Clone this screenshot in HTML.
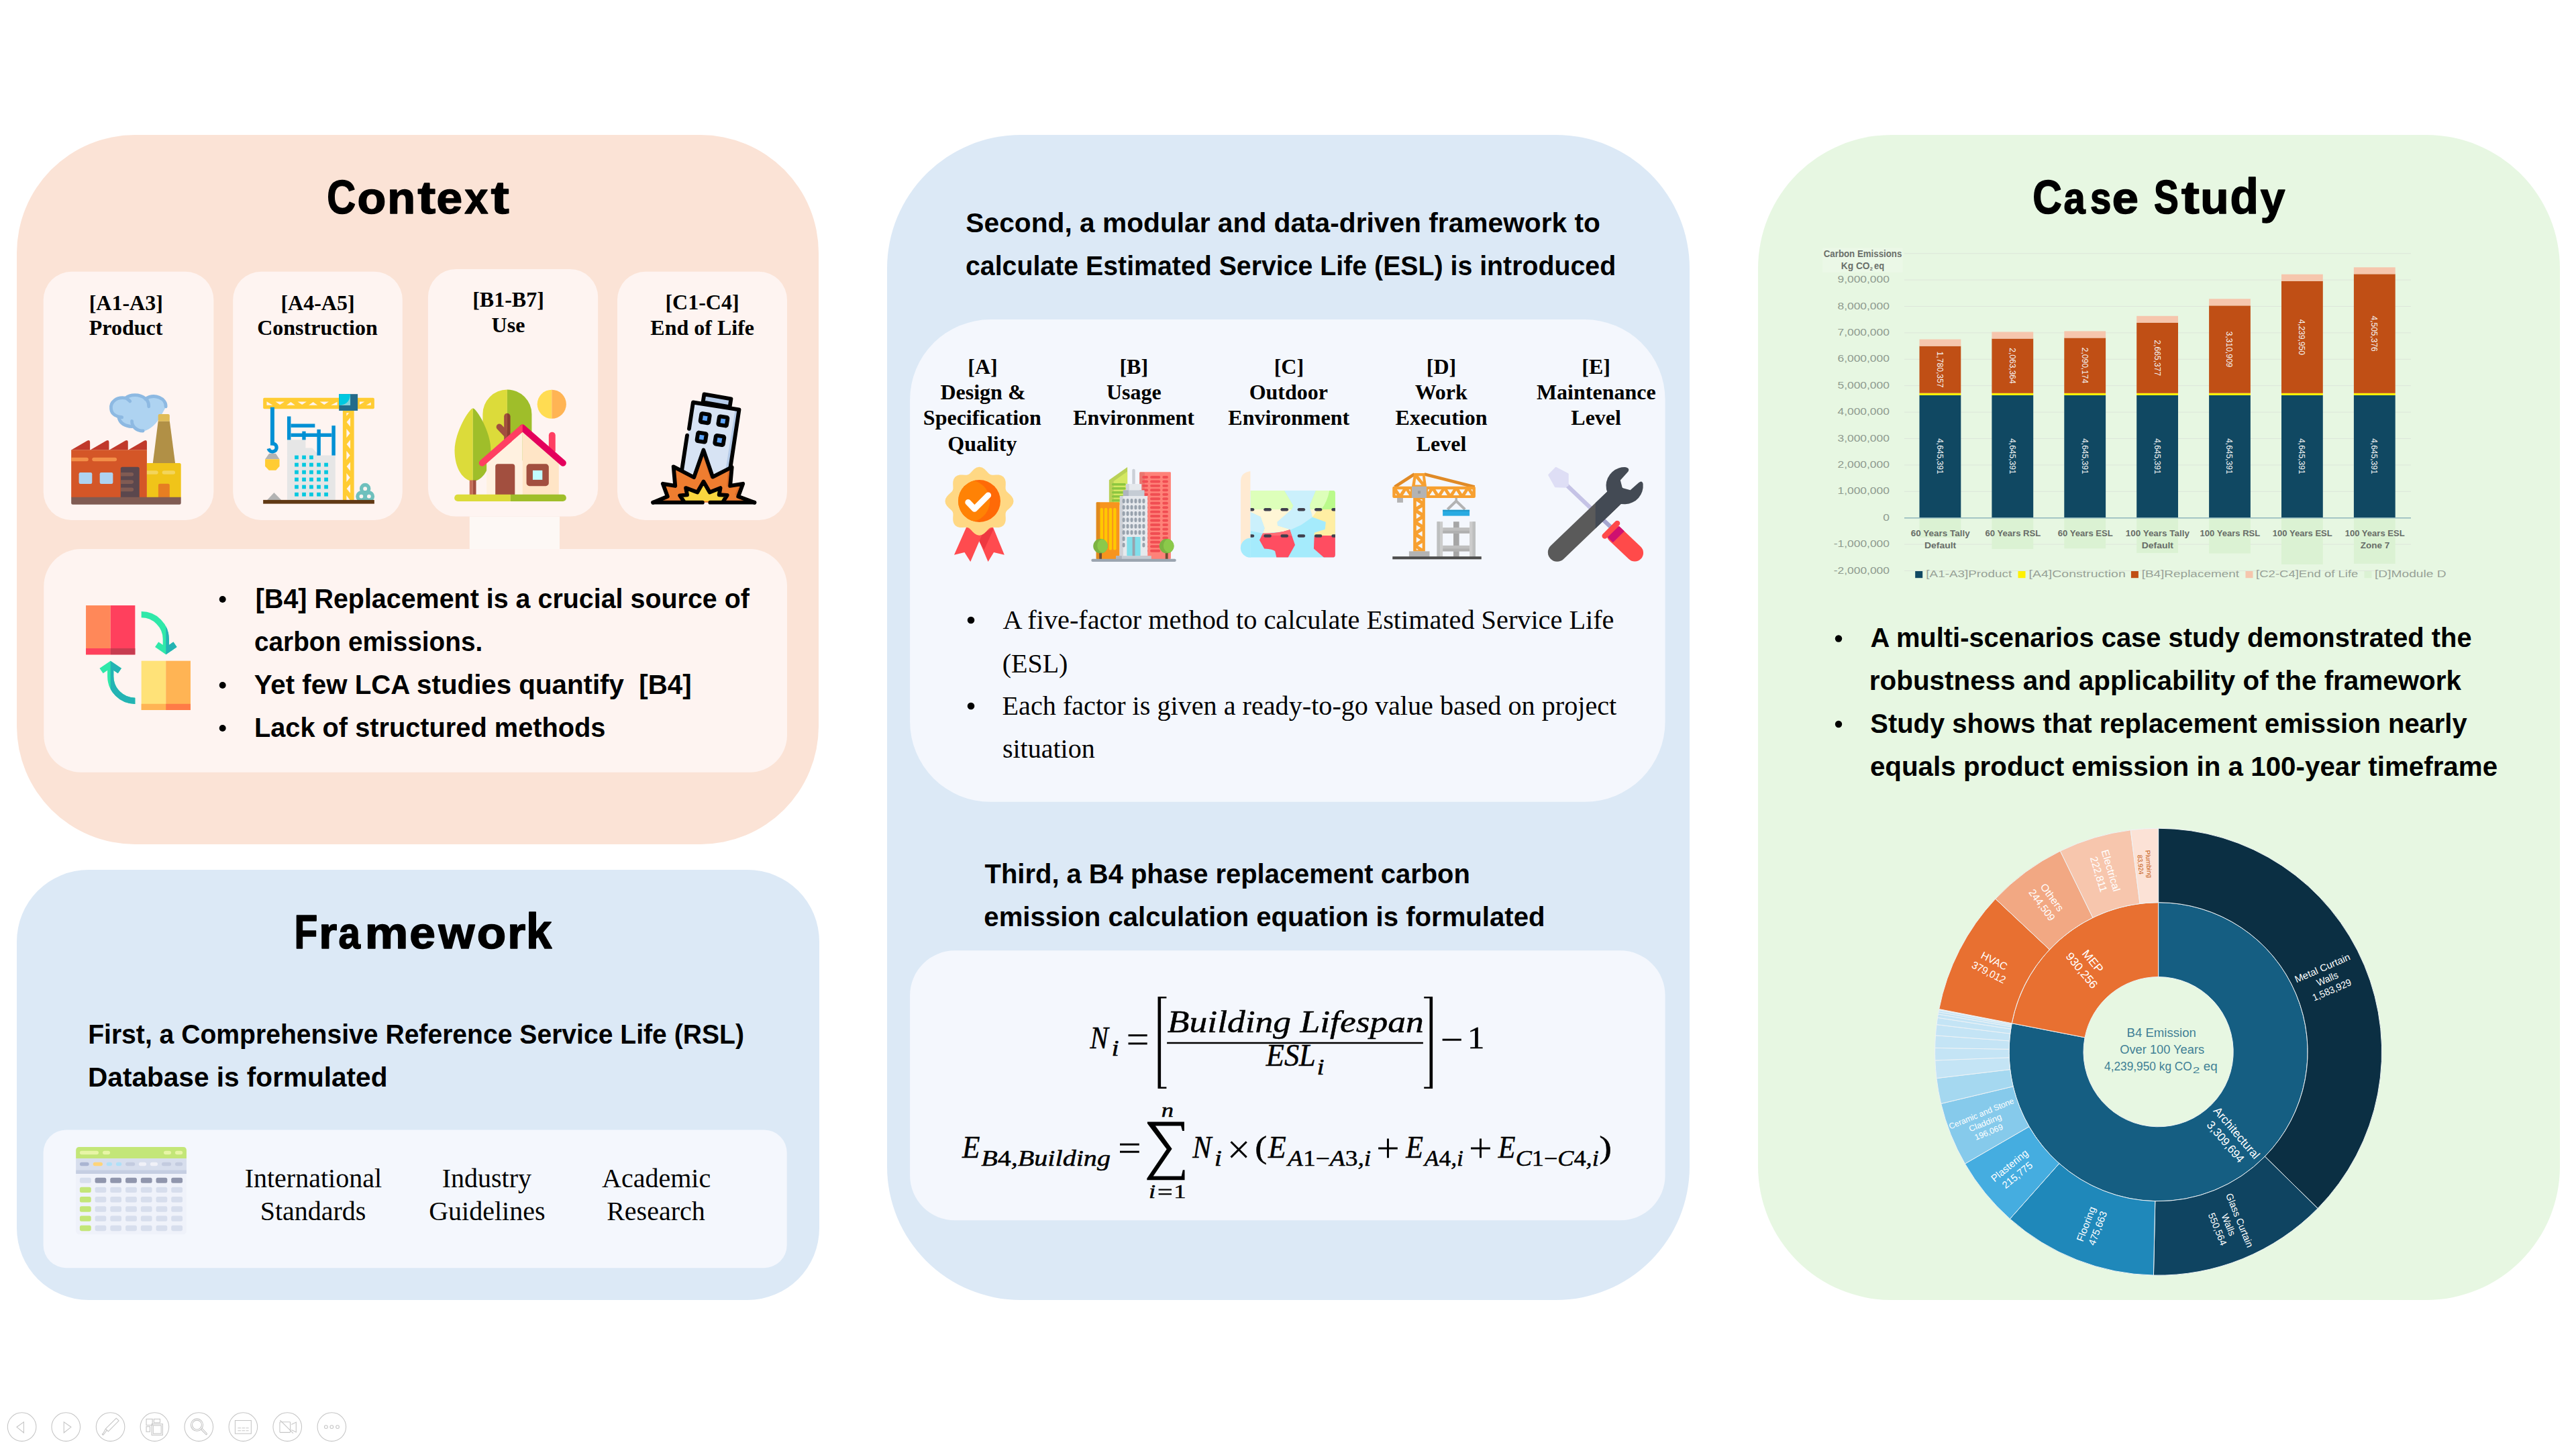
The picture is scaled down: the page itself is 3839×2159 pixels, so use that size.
<!DOCTYPE html>
<html><head><meta charset="utf-8"><title>Graphical abstract</title>
<style>html,body{margin:0;padding:0;background:#fff;overflow:hidden}svg{display:block}text{font-kerning:normal;white-space:pre}</style>
</head><body>
<svg width="3839" height="2159" viewBox="0 0 3839 2159">
<rect width="3839" height="2159" fill="#fff"/>
<rect x="25.0" y="201.0" width="1195.0" height="1057.0" rx="176.0" fill="#FBE3D6" />
<rect x="25.0" y="1296.0" width="1196.0" height="641.0" rx="107.0" fill="#DCE9F6" />
<rect x="1322.0" y="201.0" width="1196.0" height="1736.0" rx="199.0" fill="#DCE9F6" />
<rect x="2620.0" y="201.0" width="1195.0" height="1736.0" rx="199.0" fill="#E7F7E2" />
<rect x="64.7" y="404.7" width="253.7" height="370.3" rx="42.0" fill="#FEF4F1" />
<rect x="347.2" y="404.7" width="252.6" height="370.3" rx="42.0" fill="#FEF4F1" />
<rect x="637.9" y="400.9" width="253.3" height="368.7" rx="42.0" fill="#FEF4F1" />
<rect x="920.0" y="404.7" width="253.0" height="370.3" rx="42.0" fill="#FEF4F1" />
<rect x="699.8" y="769.6" width="134.2" height="48.4" fill="#FDF8F5"/>
<rect x="65.3" y="818.0" width="1107.7" height="332.8" rx="55.5" fill="#FEF4F1" />
<rect x="64.6" y="1683.5" width="1108.1" height="205.7" rx="34.0" fill="#F4F7FD" />
<rect x="1356.1" y="476.1" width="1125.5" height="718.7" rx="119.8" fill="#F4F7FD" />
<rect x="1356.1" y="1416.3" width="1125.5" height="402.0" rx="67.0" fill="#F4F7FD" />
<text x="487.22" y="318.40" font-family="Liberation Sans, sans-serif" font-weight="bold" font-style="normal" font-size="70.5" fill="#000" textLength="42.89" lengthAdjust="spacingAndGlyphs" stroke="#000" stroke-width="1.6" stroke-linejoin="round" xml:space="preserve">C</text>
<text x="532.60" y="318.40" font-family="Liberation Sans, sans-serif" font-weight="bold" font-style="normal" font-size="66.27" fill="#000" textLength="42.76" lengthAdjust="spacingAndGlyphs" stroke="#000" stroke-width="1.6" stroke-linejoin="round" xml:space="preserve">o</text>
<text x="577.35" y="318.40" font-family="Liberation Sans, sans-serif" font-weight="bold" font-style="normal" font-size="66.27" fill="#000" textLength="41.82" lengthAdjust="spacingAndGlyphs" stroke="#000" stroke-width="1.6" stroke-linejoin="round" xml:space="preserve">n</text>
<text x="622.40" y="318.40" font-family="Liberation Sans, sans-serif" font-weight="bold" font-style="normal" font-size="67.68" fill="#000" textLength="26.64" lengthAdjust="spacingAndGlyphs" stroke="#000" stroke-width="1.6" stroke-linejoin="round" xml:space="preserve">t</text>
<text x="650.42" y="318.40" font-family="Liberation Sans, sans-serif" font-weight="bold" font-style="normal" font-size="66.27" fill="#000" textLength="38.58" lengthAdjust="spacingAndGlyphs" stroke="#000" stroke-width="1.6" stroke-linejoin="round" xml:space="preserve">e</text>
<text x="692.47" y="318.40" font-family="Liberation Sans, sans-serif" font-weight="bold" font-style="normal" font-size="66.27" fill="#000" textLength="34.81" lengthAdjust="spacingAndGlyphs" stroke="#000" stroke-width="1.6" stroke-linejoin="round" xml:space="preserve">x</text>
<text x="731.89" y="318.40" font-family="Liberation Sans, sans-serif" font-weight="bold" font-style="normal" font-size="67.68" fill="#000" textLength="26.97" lengthAdjust="spacingAndGlyphs" stroke="#000" stroke-width="1.6" stroke-linejoin="round" xml:space="preserve">t</text>
<text x="438.49" y="1412.80" font-family="Liberation Sans, sans-serif" font-weight="bold" font-style="normal" font-size="70.5" fill="#000" textLength="34.85" lengthAdjust="spacingAndGlyphs" stroke="#000" stroke-width="1.6" stroke-linejoin="round" xml:space="preserve">F</text>
<text x="475.19" y="1412.80" font-family="Liberation Sans, sans-serif" font-weight="bold" font-style="normal" font-size="66.27" fill="#000" textLength="26.99" lengthAdjust="spacingAndGlyphs" stroke="#000" stroke-width="1.6" stroke-linejoin="round" xml:space="preserve">r</text>
<text x="504.45" y="1412.80" font-family="Liberation Sans, sans-serif" font-weight="bold" font-style="normal" font-size="66.27" fill="#000" textLength="32.43" lengthAdjust="spacingAndGlyphs" stroke="#000" stroke-width="1.6" stroke-linejoin="round" xml:space="preserve">a</text>
<text x="543.88" y="1412.80" font-family="Liberation Sans, sans-serif" font-weight="bold" font-style="normal" font-size="66.27" fill="#000" textLength="64.62" lengthAdjust="spacingAndGlyphs" stroke="#000" stroke-width="1.6" stroke-linejoin="round" xml:space="preserve">m</text>
<text x="610.22" y="1412.80" font-family="Liberation Sans, sans-serif" font-weight="bold" font-style="normal" font-size="66.27" fill="#000" textLength="38.70" lengthAdjust="spacingAndGlyphs" stroke="#000" stroke-width="1.6" stroke-linejoin="round" xml:space="preserve">e</text>
<text x="653.45" y="1412.80" font-family="Liberation Sans, sans-serif" font-weight="bold" font-style="normal" font-size="66.27" fill="#000" textLength="53.90" lengthAdjust="spacingAndGlyphs" stroke="#000" stroke-width="1.6" stroke-linejoin="round" xml:space="preserve">w</text>
<text x="710.85" y="1412.80" font-family="Liberation Sans, sans-serif" font-weight="bold" font-style="normal" font-size="66.27" fill="#000" textLength="43.45" lengthAdjust="spacingAndGlyphs" stroke="#000" stroke-width="1.6" stroke-linejoin="round" xml:space="preserve">o</text>
<text x="756.19" y="1412.80" font-family="Liberation Sans, sans-serif" font-weight="bold" font-style="normal" font-size="66.27" fill="#000" textLength="26.99" lengthAdjust="spacingAndGlyphs" stroke="#000" stroke-width="1.6" stroke-linejoin="round" xml:space="preserve">r</text>
<text x="784.08" y="1412.80" font-family="Liberation Sans, sans-serif" font-weight="bold" font-style="normal" font-size="73.67" fill="#000" textLength="38.30" lengthAdjust="spacingAndGlyphs" stroke="#000" stroke-width="1.6" stroke-linejoin="round" xml:space="preserve">k</text>
<text x="3029.29" y="318.40" font-family="Liberation Sans, sans-serif" font-weight="bold" font-style="normal" font-size="70.5" fill="#000" textLength="43.55" lengthAdjust="spacingAndGlyphs" stroke="#000" stroke-width="1.6" stroke-linejoin="round" xml:space="preserve">C</text>
<text x="3075.56" y="318.40" font-family="Liberation Sans, sans-serif" font-weight="bold" font-style="normal" font-size="66.27" fill="#000" textLength="32.23" lengthAdjust="spacingAndGlyphs" stroke="#000" stroke-width="1.6" stroke-linejoin="round" xml:space="preserve">a</text>
<text x="3115.12" y="318.40" font-family="Liberation Sans, sans-serif" font-weight="bold" font-style="normal" font-size="66.27" fill="#000" textLength="31.40" lengthAdjust="spacingAndGlyphs" stroke="#000" stroke-width="1.6" stroke-linejoin="round" xml:space="preserve">s</text>
<text x="3147.88" y="318.40" font-family="Liberation Sans, sans-serif" font-weight="bold" font-style="normal" font-size="66.27" fill="#000" textLength="39.16" lengthAdjust="spacingAndGlyphs" stroke="#000" stroke-width="1.6" stroke-linejoin="round" xml:space="preserve">e</text>
<text x="3210.05" y="318.40" font-family="Liberation Sans, sans-serif" font-weight="bold" font-style="normal" font-size="70.5" fill="#000" textLength="36.80" lengthAdjust="spacingAndGlyphs" stroke="#000" stroke-width="1.6" stroke-linejoin="round" xml:space="preserve">S</text>
<text x="3251.00" y="318.40" font-family="Liberation Sans, sans-serif" font-weight="bold" font-style="normal" font-size="67.68" fill="#000" textLength="26.64" lengthAdjust="spacingAndGlyphs" stroke="#000" stroke-width="1.6" stroke-linejoin="round" xml:space="preserve">t</text>
<text x="3279.24" y="318.40" font-family="Liberation Sans, sans-serif" font-weight="bold" font-style="normal" font-size="66.27" fill="#000" textLength="42.32" lengthAdjust="spacingAndGlyphs" stroke="#000" stroke-width="1.6" stroke-linejoin="round" xml:space="preserve">u</text>
<text x="3323.52" y="318.40" font-family="Liberation Sans, sans-serif" font-weight="bold" font-style="normal" font-size="73.67" fill="#000" textLength="42.46" lengthAdjust="spacingAndGlyphs" stroke="#000" stroke-width="1.6" stroke-linejoin="round" xml:space="preserve">d</text>
<text x="3368.84" y="318.40" font-family="Liberation Sans, sans-serif" font-weight="bold" font-style="normal" font-size="66.27" fill="#000" textLength="36.67" lengthAdjust="spacingAndGlyphs" stroke="#000" stroke-width="1.6" stroke-linejoin="round" xml:space="preserve">y</text>
<text x="132.68" y="461.60" font-family="Liberation Serif, serif" font-weight="bold" font-style="normal" font-size="32" fill="#000" textLength="110.19" lengthAdjust="spacingAndGlyphs"  xml:space="preserve">[A1-A3]</text>
<text x="132.76" y="499.10" font-family="Liberation Serif, serif" font-weight="bold" font-style="normal" font-size="32" fill="#000" textLength="109.63" lengthAdjust="spacingAndGlyphs"  xml:space="preserve">Product</text>
<text x="418.38" y="461.60" font-family="Liberation Serif, serif" font-weight="bold" font-style="normal" font-size="32" fill="#000" textLength="110.19" lengthAdjust="spacingAndGlyphs"  xml:space="preserve">[A4-A5]</text>
<text x="383.18" y="499.10" font-family="Liberation Serif, serif" font-weight="bold" font-style="normal" font-size="32" fill="#000" textLength="179.57" lengthAdjust="spacingAndGlyphs"  xml:space="preserve">Construction</text>
<text x="704.14" y="457.40" font-family="Liberation Serif, serif" font-weight="bold" font-style="normal" font-size="32" fill="#000" textLength="106.66" lengthAdjust="spacingAndGlyphs"  xml:space="preserve">[B1-B7]</text>
<text x="732.62" y="494.90" font-family="Liberation Serif, serif" font-weight="bold" font-style="normal" font-size="32" fill="#000" textLength="49.77" lengthAdjust="spacingAndGlyphs"  xml:space="preserve">Use</text>
<text x="991.38" y="461.40" font-family="Liberation Serif, serif" font-weight="bold" font-style="normal" font-size="32" fill="#000" textLength="110.19" lengthAdjust="spacingAndGlyphs"  xml:space="preserve">[C1-C4]</text>
<text x="969.30" y="498.90" font-family="Liberation Serif, serif" font-weight="bold" font-style="normal" font-size="32" fill="#000" textLength="154.69" lengthAdjust="spacingAndGlyphs"  xml:space="preserve">End of Life</text>
<text x="380.83" y="905.60" font-family="Liberation Sans, sans-serif" font-weight="bold" font-style="normal" font-size="40" fill="#000" textLength="736.12" lengthAdjust="spacingAndGlyphs"  xml:space="preserve">[B4] Replacement is a crucial source of</text>
<text x="378.95" y="969.60" font-family="Liberation Sans, sans-serif" font-weight="bold" font-style="normal" font-size="40" fill="#000" textLength="340.30" lengthAdjust="spacingAndGlyphs"  xml:space="preserve">carbon emissions.</text>
<text x="378.69" y="1033.50" font-family="Liberation Sans, sans-serif" font-weight="bold" font-style="normal" font-size="40" fill="#000" textLength="651.92" lengthAdjust="spacingAndGlyphs"  xml:space="preserve">Yet few LCA studies quantify  [B4]</text>
<text x="378.92" y="1097.70" font-family="Liberation Sans, sans-serif" font-weight="bold" font-style="normal" font-size="40" fill="#000" textLength="523.55" lengthAdjust="spacingAndGlyphs"  xml:space="preserve">Lack of structured methods</text>
<circle cx="331.7" cy="893" r="5" fill="#000"/>
<circle cx="331.7" cy="1021" r="5" fill="#000"/>
<circle cx="331.7" cy="1085" r="5" fill="#000"/>
<text x="131.16" y="1554.80" font-family="Liberation Sans, sans-serif" font-weight="bold" font-style="normal" font-size="40" fill="#000" textLength="977.77" lengthAdjust="spacingAndGlyphs"  xml:space="preserve">First, a Comprehensive Reference Service Life (RSL)</text>
<text x="131.06" y="1619.40" font-family="Liberation Sans, sans-serif" font-weight="bold" font-style="normal" font-size="40" fill="#000" textLength="446.42" lengthAdjust="spacingAndGlyphs"  xml:space="preserve">Database is formulated</text>
<text x="364.70" y="1769.40" font-family="Liberation Serif, serif" font-weight="normal" font-style="normal" font-size="40" fill="#000" textLength="204.35" lengthAdjust="spacingAndGlyphs"  xml:space="preserve">International</text>
<text x="387.70" y="1817.60" font-family="Liberation Serif, serif" font-weight="normal" font-style="normal" font-size="40" fill="#000" textLength="157.75" lengthAdjust="spacingAndGlyphs"  xml:space="preserve">Standards</text>
<text x="658.70" y="1769.40" font-family="Liberation Serif, serif" font-weight="normal" font-style="normal" font-size="40" fill="#000" textLength="133.32" lengthAdjust="spacingAndGlyphs"  xml:space="preserve">Industry</text>
<text x="639.20" y="1817.60" font-family="Liberation Serif, serif" font-weight="normal" font-style="normal" font-size="40" fill="#000" textLength="173.30" lengthAdjust="spacingAndGlyphs"  xml:space="preserve">Guidelines</text>
<text x="897.10" y="1769.40" font-family="Liberation Serif, serif" font-weight="normal" font-style="normal" font-size="40" fill="#000" textLength="162.12" lengthAdjust="spacingAndGlyphs"  xml:space="preserve">Academic</text>
<text x="904.20" y="1817.60" font-family="Liberation Serif, serif" font-weight="normal" font-style="normal" font-size="40" fill="#000" textLength="146.58" lengthAdjust="spacingAndGlyphs"  xml:space="preserve">Research</text>
<text x="1439.38" y="345.50" font-family="Liberation Sans, sans-serif" font-weight="bold" font-style="normal" font-size="40" fill="#000" textLength="945.55" lengthAdjust="spacingAndGlyphs"  xml:space="preserve">Second, a modular and data-driven framework to</text>
<text x="1439.03" y="409.60" font-family="Liberation Sans, sans-serif" font-weight="bold" font-style="normal" font-size="40" fill="#000" textLength="969.12" lengthAdjust="spacingAndGlyphs"  xml:space="preserve">calculate Estimated Service Life (ESL) is introduced</text>
<text x="1442.26" y="556.70" font-family="Liberation Serif, serif" font-weight="bold" font-style="normal" font-size="32" fill="#000" textLength="44.42" lengthAdjust="spacingAndGlyphs"  xml:space="preserve">[A]</text>
<text x="1401.46" y="595.00" font-family="Liberation Serif, serif" font-weight="bold" font-style="normal" font-size="32" fill="#000" textLength="127.11" lengthAdjust="spacingAndGlyphs"  xml:space="preserve">Design &amp;</text>
<text x="1375.86" y="633.30" font-family="Liberation Serif, serif" font-weight="bold" font-style="normal" font-size="32" fill="#000" textLength="175.99" lengthAdjust="spacingAndGlyphs"  xml:space="preserve">Specification</text>
<text x="1412.26" y="671.60" font-family="Liberation Serif, serif" font-weight="bold" font-style="normal" font-size="32" fill="#000" textLength="103.13" lengthAdjust="spacingAndGlyphs"  xml:space="preserve">Quality</text>
<text x="1668.44" y="556.70" font-family="Liberation Serif, serif" font-weight="bold" font-style="normal" font-size="32" fill="#000" textLength="42.66" lengthAdjust="spacingAndGlyphs"  xml:space="preserve">[B]</text>
<text x="1648.92" y="595.00" font-family="Liberation Serif, serif" font-weight="bold" font-style="normal" font-size="32" fill="#000" textLength="81.76" lengthAdjust="spacingAndGlyphs"  xml:space="preserve">Usage</text>
<text x="1599.24" y="633.30" font-family="Liberation Serif, serif" font-weight="bold" font-style="normal" font-size="32" fill="#000" textLength="180.77" lengthAdjust="spacingAndGlyphs"  xml:space="preserve">Environment</text>
<text x="1898.66" y="556.70" font-family="Liberation Serif, serif" font-weight="bold" font-style="normal" font-size="32" fill="#000" textLength="44.42" lengthAdjust="spacingAndGlyphs"  xml:space="preserve">[C]</text>
<text x="1861.70" y="595.00" font-family="Liberation Serif, serif" font-weight="bold" font-style="normal" font-size="32" fill="#000" textLength="117.34" lengthAdjust="spacingAndGlyphs"  xml:space="preserve">Outdoor</text>
<text x="1830.34" y="633.30" font-family="Liberation Serif, serif" font-weight="bold" font-style="normal" font-size="32" fill="#000" textLength="180.77" lengthAdjust="spacingAndGlyphs"  xml:space="preserve">Environment</text>
<text x="2125.76" y="556.70" font-family="Liberation Serif, serif" font-weight="bold" font-style="normal" font-size="32" fill="#000" textLength="44.43" lengthAdjust="spacingAndGlyphs"  xml:space="preserve">[D]</text>
<text x="2108.64" y="595.00" font-family="Liberation Serif, serif" font-weight="bold" font-style="normal" font-size="32" fill="#000" textLength="78.24" lengthAdjust="spacingAndGlyphs"  xml:space="preserve">Work</text>
<text x="2079.60" y="633.30" font-family="Liberation Serif, serif" font-weight="bold" font-style="normal" font-size="32" fill="#000" textLength="136.89" lengthAdjust="spacingAndGlyphs"  xml:space="preserve">Execution</text>
<text x="2110.72" y="671.60" font-family="Liberation Serif, serif" font-weight="bold" font-style="normal" font-size="32" fill="#000" textLength="74.64" lengthAdjust="spacingAndGlyphs"  xml:space="preserve">Level</text>
<text x="2357.24" y="556.70" font-family="Liberation Serif, serif" font-weight="bold" font-style="normal" font-size="32" fill="#000" textLength="42.66" lengthAdjust="spacingAndGlyphs"  xml:space="preserve">[E]</text>
<text x="2289.88" y="595.00" font-family="Liberation Serif, serif" font-weight="bold" font-style="normal" font-size="32" fill="#000" textLength="177.75" lengthAdjust="spacingAndGlyphs"  xml:space="preserve">Maintenance</text>
<text x="2341.32" y="633.30" font-family="Liberation Serif, serif" font-weight="bold" font-style="normal" font-size="32" fill="#000" textLength="74.64" lengthAdjust="spacingAndGlyphs"  xml:space="preserve">Level</text>
<text x="1494.40" y="936.90" font-family="Liberation Serif, serif" font-weight="normal" font-style="normal" font-size="40" fill="#000" textLength="911.08" lengthAdjust="spacingAndGlyphs"  xml:space="preserve">A five-factor method to calculate Estimated Service Life</text>
<text x="1493.70" y="1001.50" font-family="Liberation Serif, serif" font-weight="normal" font-style="normal" font-size="40" fill="#000"   xml:space="preserve">(ESL)</text>
<text x="1493.59" y="1065.10" font-family="Liberation Serif, serif" font-weight="normal" font-style="normal" font-size="40" fill="#000" textLength="915.63" lengthAdjust="spacingAndGlyphs"  xml:space="preserve">Each factor is given a ready-to-go value based on project</text>
<text x="1493.90" y="1129.20" font-family="Liberation Serif, serif" font-weight="normal" font-style="normal" font-size="40" fill="#000"   xml:space="preserve">situation</text>
<circle cx="1447" cy="924" r="5.3" fill="#000"/>
<circle cx="1447" cy="1052" r="5.3" fill="#000"/>
<text x="1467.60" y="1316.00" font-family="Liberation Sans, sans-serif" font-weight="bold" font-style="normal" font-size="40" fill="#000" textLength="723.27" lengthAdjust="spacingAndGlyphs"  xml:space="preserve">Third, a B4 phase replacement carbon</text>
<text x="1466.39" y="1379.60" font-family="Liberation Sans, sans-serif" font-weight="bold" font-style="normal" font-size="40" fill="#000" textLength="836.12" lengthAdjust="spacingAndGlyphs"  xml:space="preserve">emission calculation equation is formulated</text>
<text x="2787.50" y="964.20" font-family="Liberation Sans, sans-serif" font-weight="bold" font-style="normal" font-size="40" fill="#000" textLength="896.08" lengthAdjust="spacingAndGlyphs"  xml:space="preserve">A multi-scenarios case study demonstrated the</text>
<text x="2785.87" y="1027.70" font-family="Liberation Sans, sans-serif" font-weight="bold" font-style="normal" font-size="40" fill="#000" textLength="882.06" lengthAdjust="spacingAndGlyphs"  xml:space="preserve">robustness and applicability of the framework</text>
<text x="2787.30" y="1091.60" font-family="Liberation Sans, sans-serif" font-weight="bold" font-style="normal" font-size="40" fill="#000" textLength="889.30" lengthAdjust="spacingAndGlyphs"  xml:space="preserve">Study shows that replacement emission nearly</text>
<text x="2786.89" y="1155.60" font-family="Liberation Sans, sans-serif" font-weight="bold" font-style="normal" font-size="40" fill="#000" textLength="935.25" lengthAdjust="spacingAndGlyphs"  xml:space="preserve">equals product emission in a 100-year timeframe</text>
<circle cx="2740" cy="951.5" r="5.2" fill="#000"/>
<circle cx="2740" cy="1079" r="5.2" fill="#000"/>
<g id="barchart">
<line x1="2838" x2="3593" y1="850.5" y2="850.5" stroke="#dde6da" stroke-width="1"/>
<line x1="2838" x2="3593" y1="811.1" y2="811.1" stroke="#dde6da" stroke-width="1"/>
<line x1="2838" x2="3593" y1="732.3" y2="732.3" stroke="#dde6da" stroke-width="1"/>
<line x1="2838" x2="3593" y1="692.9" y2="692.9" stroke="#dde6da" stroke-width="1"/>
<line x1="2838" x2="3593" y1="653.5" y2="653.5" stroke="#dde6da" stroke-width="1"/>
<line x1="2838" x2="3593" y1="614.1" y2="614.1" stroke="#dde6da" stroke-width="1"/>
<line x1="2838" x2="3593" y1="574.7" y2="574.7" stroke="#dde6da" stroke-width="1"/>
<line x1="2838" x2="3593" y1="535.3" y2="535.3" stroke="#dde6da" stroke-width="1"/>
<line x1="2838" x2="3593" y1="495.9" y2="495.9" stroke="#dde6da" stroke-width="1"/>
<line x1="2838" x2="3593" y1="456.5" y2="456.5" stroke="#dde6da" stroke-width="1"/>
<line x1="2838" x2="3593" y1="417.1" y2="417.1" stroke="#dde6da" stroke-width="1"/>
<line x1="2838" x2="3593" y1="377.7" y2="377.7" stroke="#dde6da" stroke-width="1"/>
<text x="2732.74" y="854.50" font-family="Liberation Sans, sans-serif" font-weight="normal" font-style="normal" font-size="14.5" fill="#8f9b90" textLength="83.20" lengthAdjust="spacingAndGlyphs"  xml:space="preserve">-2,000,000</text>
<text x="2732.74" y="815.10" font-family="Liberation Sans, sans-serif" font-weight="normal" font-style="normal" font-size="14.5" fill="#8f9b90" textLength="83.20" lengthAdjust="spacingAndGlyphs"  xml:space="preserve">-1,000,000</text>
<text x="2806.25" y="775.70" font-family="Liberation Sans, sans-serif" font-weight="normal" font-style="normal" font-size="14.5" fill="#8f9b90" textLength="9.68" lengthAdjust="spacingAndGlyphs"  xml:space="preserve">0</text>
<text x="2738.48" y="736.30" font-family="Liberation Sans, sans-serif" font-weight="normal" font-style="normal" font-size="14.5" fill="#8f9b90" textLength="77.41" lengthAdjust="spacingAndGlyphs"  xml:space="preserve">1,000,000</text>
<text x="2738.48" y="696.90" font-family="Liberation Sans, sans-serif" font-weight="normal" font-style="normal" font-size="14.5" fill="#8f9b90" textLength="77.41" lengthAdjust="spacingAndGlyphs"  xml:space="preserve">2,000,000</text>
<text x="2738.48" y="657.50" font-family="Liberation Sans, sans-serif" font-weight="normal" font-style="normal" font-size="14.5" fill="#8f9b90" textLength="77.41" lengthAdjust="spacingAndGlyphs"  xml:space="preserve">3,000,000</text>
<text x="2738.48" y="618.10" font-family="Liberation Sans, sans-serif" font-weight="normal" font-style="normal" font-size="14.5" fill="#8f9b90" textLength="77.41" lengthAdjust="spacingAndGlyphs"  xml:space="preserve">4,000,000</text>
<text x="2738.48" y="578.70" font-family="Liberation Sans, sans-serif" font-weight="normal" font-style="normal" font-size="14.5" fill="#8f9b90" textLength="77.41" lengthAdjust="spacingAndGlyphs"  xml:space="preserve">5,000,000</text>
<text x="2738.48" y="539.30" font-family="Liberation Sans, sans-serif" font-weight="normal" font-style="normal" font-size="14.5" fill="#8f9b90" textLength="77.41" lengthAdjust="spacingAndGlyphs"  xml:space="preserve">6,000,000</text>
<text x="2738.48" y="499.90" font-family="Liberation Sans, sans-serif" font-weight="normal" font-style="normal" font-size="14.5" fill="#8f9b90" textLength="77.41" lengthAdjust="spacingAndGlyphs"  xml:space="preserve">7,000,000</text>
<text x="2738.48" y="460.50" font-family="Liberation Sans, sans-serif" font-weight="normal" font-style="normal" font-size="14.5" fill="#8f9b90" textLength="77.41" lengthAdjust="spacingAndGlyphs"  xml:space="preserve">8,000,000</text>
<text x="2738.48" y="421.10" font-family="Liberation Sans, sans-serif" font-weight="normal" font-style="normal" font-size="14.5" fill="#8f9b90" textLength="77.41" lengthAdjust="spacingAndGlyphs"  xml:space="preserve">9,000,000</text>
<rect x="2716.4" y="369.4" width="119.2" height="36.4" fill="#EBF8E7"/>
<text x="2717.77" y="382.80" font-family="Liberation Sans, sans-serif" font-weight="bold" font-style="normal" font-size="14" fill="#6a6f6a" textLength="116.56" lengthAdjust="spacingAndGlyphs"  xml:space="preserve">Carbon Emissions</text>
<text x="2743.70" y="401.00" font-family="Liberation Sans, sans-serif" font-weight="bold" font-style="normal" font-size="14" fill="#6a6f6a" textLength="42.86" lengthAdjust="spacingAndGlyphs"  xml:space="preserve">Kg CO</text>
<text x="2786.74" y="402.50" font-family="Liberation Sans, sans-serif" font-weight="bold" font-style="normal" font-size="8" fill="#6a6f6a" textLength="4.06" lengthAdjust="spacingAndGlyphs"  xml:space="preserve">2</text>
<text x="2792.98" y="401.00" font-family="Liberation Sans, sans-serif" font-weight="bold" font-style="normal" font-size="14" fill="#6a6f6a" textLength="15.08" lengthAdjust="spacingAndGlyphs"  xml:space="preserve">eq</text>
<rect x="2860.5" y="771.7" width="61.8" height="29.3" fill="#DBF2D3"/>
<rect x="2968.4" y="771.7" width="61.8" height="46.3" fill="#DBF2D3"/>
<rect x="3076.3" y="771.7" width="61.8" height="45.6" fill="#DBF2D3"/>
<rect x="3184.2" y="771.7" width="61.8" height="52.2" fill="#DBF2D3"/>
<rect x="3292.1" y="771.7" width="61.8" height="52.9" fill="#DBF2D3"/>
<rect x="3400.0" y="771.7" width="61.8" height="69.3" fill="#DBF2D3"/>
<rect x="3507.9" y="771.7" width="61.8" height="68.3" fill="#DBF2D3"/>
<rect x="2860.5" y="588.7" width="61.8" height="183.0" fill="#104862"/>
<rect x="2860.5" y="585.8" width="61.8" height="3.1" fill="#FFF100"/>
<rect x="2860.5" y="515.6" width="61.8" height="70.1" fill="#C04F15"/>
<rect x="2860.5" y="505.6" width="61.8" height="10.1" fill="#F6C6AD"/>
<g transform="translate(2886.8,679.7) rotate(90)">
<text x="-26.49" y="0.00" font-family="Liberation Sans, sans-serif" font-weight="normal" font-style="normal" font-size="13" fill="#f4f4f4" textLength="53.26" lengthAdjust="spacingAndGlyphs"  xml:space="preserve">4,645,391</text>
</g>
<g transform="translate(2886.8,550.7) rotate(90)">
<text x="-27.16" y="0.00" font-family="Liberation Sans, sans-serif" font-weight="normal" font-style="normal" font-size="13" fill="#f4f4f4" textLength="54.00" lengthAdjust="spacingAndGlyphs"  xml:space="preserve">1,780,357</text>
</g>
<text x="2847.83" y="799.40" font-family="Liberation Sans, sans-serif" font-weight="bold" font-style="normal" font-size="13.6" fill="#686d68" textLength="87.93" lengthAdjust="spacingAndGlyphs"  xml:space="preserve">60 Years Tally</text>
<text x="2868.04" y="817.00" font-family="Liberation Sans, sans-serif" font-weight="bold" font-style="normal" font-size="13.6" fill="#686d68" textLength="47.20" lengthAdjust="spacingAndGlyphs"  xml:space="preserve">Default</text>
<rect x="2968.4" y="588.7" width="61.8" height="183.0" fill="#104862"/>
<rect x="2968.4" y="585.8" width="61.8" height="3.1" fill="#FFF100"/>
<rect x="2968.4" y="504.5" width="61.8" height="81.3" fill="#C04F15"/>
<rect x="2968.4" y="494.5" width="61.8" height="10.1" fill="#F6C6AD"/>
<g transform="translate(2994.7,679.7) rotate(90)">
<text x="-26.49" y="0.00" font-family="Liberation Sans, sans-serif" font-weight="normal" font-style="normal" font-size="13" fill="#f4f4f4" textLength="53.26" lengthAdjust="spacingAndGlyphs"  xml:space="preserve">4,645,391</text>
</g>
<g transform="translate(2994.7,545.1) rotate(90)">
<text x="-26.85" y="0.00" font-family="Liberation Sans, sans-serif" font-weight="normal" font-style="normal" font-size="13" fill="#f4f4f4" textLength="53.45" lengthAdjust="spacingAndGlyphs"  xml:space="preserve">2,063,364</text>
</g>
<text x="2958.44" y="799.40" font-family="Liberation Sans, sans-serif" font-weight="bold" font-style="normal" font-size="13.6" fill="#686d68" textLength="82.85" lengthAdjust="spacingAndGlyphs"  xml:space="preserve">60 Years RSL</text>
<rect x="3076.3" y="588.7" width="61.8" height="183.0" fill="#104862"/>
<rect x="3076.3" y="585.8" width="61.8" height="3.1" fill="#FFF100"/>
<rect x="3076.3" y="503.4" width="61.8" height="82.4" fill="#C04F15"/>
<rect x="3076.3" y="493.4" width="61.8" height="10.1" fill="#F6C6AD"/>
<g transform="translate(3102.6,679.7) rotate(90)">
<text x="-26.49" y="0.00" font-family="Liberation Sans, sans-serif" font-weight="normal" font-style="normal" font-size="13" fill="#f4f4f4" textLength="53.26" lengthAdjust="spacingAndGlyphs"  xml:space="preserve">4,645,391</text>
</g>
<g transform="translate(3102.6,544.6) rotate(90)">
<text x="-26.85" y="0.00" font-family="Liberation Sans, sans-serif" font-weight="normal" font-style="normal" font-size="13" fill="#f4f4f4" textLength="53.45" lengthAdjust="spacingAndGlyphs"  xml:space="preserve">2,090,174</text>
</g>
<text x="3066.69" y="799.40" font-family="Liberation Sans, sans-serif" font-weight="bold" font-style="normal" font-size="13.6" fill="#686d68" textLength="82.14" lengthAdjust="spacingAndGlyphs"  xml:space="preserve">60 Years ESL</text>
<rect x="3184.2" y="588.7" width="61.8" height="183.0" fill="#104862"/>
<rect x="3184.2" y="585.8" width="61.8" height="3.1" fill="#FFF100"/>
<rect x="3184.2" y="480.8" width="61.8" height="105.0" fill="#C04F15"/>
<rect x="3184.2" y="470.8" width="61.8" height="10.1" fill="#F6C6AD"/>
<g transform="translate(3210.5,679.7) rotate(90)">
<text x="-26.49" y="0.00" font-family="Liberation Sans, sans-serif" font-weight="normal" font-style="normal" font-size="13" fill="#f4f4f4" textLength="53.26" lengthAdjust="spacingAndGlyphs"  xml:space="preserve">4,645,391</text>
</g>
<g transform="translate(3210.5,533.3) rotate(90)">
<text x="-26.85" y="0.00" font-family="Liberation Sans, sans-serif" font-weight="normal" font-style="normal" font-size="13" fill="#f4f4f4" textLength="53.69" lengthAdjust="spacingAndGlyphs"  xml:space="preserve">2,665,377</text>
</g>
<text x="3167.74" y="799.40" font-family="Liberation Sans, sans-serif" font-weight="bold" font-style="normal" font-size="13.6" fill="#686d68" textLength="95.18" lengthAdjust="spacingAndGlyphs"  xml:space="preserve">100 Years Tally</text>
<text x="3191.74" y="817.00" font-family="Liberation Sans, sans-serif" font-weight="bold" font-style="normal" font-size="13.6" fill="#686d68" textLength="47.20" lengthAdjust="spacingAndGlyphs"  xml:space="preserve">Default</text>
<rect x="3292.1" y="588.7" width="61.8" height="183.0" fill="#104862"/>
<rect x="3292.1" y="585.8" width="61.8" height="3.1" fill="#FFF100"/>
<rect x="3292.1" y="455.3" width="61.8" height="130.4" fill="#C04F15"/>
<rect x="3292.1" y="445.3" width="61.8" height="10.1" fill="#F6C6AD"/>
<g transform="translate(3318.4,679.7) rotate(90)">
<text x="-26.49" y="0.00" font-family="Liberation Sans, sans-serif" font-weight="normal" font-style="normal" font-size="13" fill="#f4f4f4" textLength="53.26" lengthAdjust="spacingAndGlyphs"  xml:space="preserve">4,645,391</text>
</g>
<g transform="translate(3318.4,520.5) rotate(90)">
<text x="-26.73" y="0.00" font-family="Liberation Sans, sans-serif" font-weight="normal" font-style="normal" font-size="13" fill="#f4f4f4" textLength="53.51" lengthAdjust="spacingAndGlyphs"  xml:space="preserve">3,310,909</text>
</g>
<text x="3278.57" y="799.40" font-family="Liberation Sans, sans-serif" font-weight="bold" font-style="normal" font-size="13.6" fill="#686d68" textLength="89.68" lengthAdjust="spacingAndGlyphs"  xml:space="preserve">100 Years RSL</text>
<rect x="3400.0" y="588.7" width="61.8" height="183.0" fill="#104862"/>
<rect x="3400.0" y="585.8" width="61.8" height="3.1" fill="#FFF100"/>
<rect x="3400.0" y="418.7" width="61.8" height="167.1" fill="#C04F15"/>
<rect x="3400.0" y="408.7" width="61.8" height="10.1" fill="#F6C6AD"/>
<g transform="translate(3426.3,679.7) rotate(90)">
<text x="-26.49" y="0.00" font-family="Liberation Sans, sans-serif" font-weight="normal" font-style="normal" font-size="13" fill="#f4f4f4" textLength="53.26" lengthAdjust="spacingAndGlyphs"  xml:space="preserve">4,645,391</text>
</g>
<g transform="translate(3426.3,502.2) rotate(90)">
<text x="-26.49" y="0.00" font-family="Liberation Sans, sans-serif" font-weight="normal" font-style="normal" font-size="13" fill="#f4f4f4" textLength="53.14" lengthAdjust="spacingAndGlyphs"  xml:space="preserve">4,239,950</text>
</g>
<text x="3386.82" y="799.40" font-family="Liberation Sans, sans-serif" font-weight="bold" font-style="normal" font-size="13.6" fill="#686d68" textLength="88.98" lengthAdjust="spacingAndGlyphs"  xml:space="preserve">100 Years ESL</text>
<rect x="3507.9" y="588.7" width="61.8" height="183.0" fill="#104862"/>
<rect x="3507.9" y="585.8" width="61.8" height="3.1" fill="#FFF100"/>
<rect x="3507.9" y="408.3" width="61.8" height="177.5" fill="#C04F15"/>
<rect x="3507.9" y="398.3" width="61.8" height="10.1" fill="#F6C6AD"/>
<g transform="translate(3534.2,679.7) rotate(90)">
<text x="-26.49" y="0.00" font-family="Liberation Sans, sans-serif" font-weight="normal" font-style="normal" font-size="13" fill="#f4f4f4" textLength="53.26" lengthAdjust="spacingAndGlyphs"  xml:space="preserve">4,645,391</text>
</g>
<g transform="translate(3534.2,497.0) rotate(90)">
<text x="-26.49" y="0.00" font-family="Liberation Sans, sans-serif" font-weight="normal" font-style="normal" font-size="13" fill="#f4f4f4" textLength="53.20" lengthAdjust="spacingAndGlyphs"  xml:space="preserve">4,505,376</text>
</g>
<text x="3494.72" y="799.40" font-family="Liberation Sans, sans-serif" font-weight="bold" font-style="normal" font-size="13.6" fill="#686d68" textLength="88.98" lengthAdjust="spacingAndGlyphs"  xml:space="preserve">100 Years ESL</text>
<text x="3517.75" y="817.00" font-family="Liberation Sans, sans-serif" font-weight="bold" font-style="normal" font-size="13.6" fill="#686d68" textLength="43.48" lengthAdjust="spacingAndGlyphs"  xml:space="preserve">Zone 7</text>
<line x1="2838" x2="3593" y1="771.7" y2="771.7" stroke="#8fb6bb" stroke-width="1.4"/>
<rect x="2854.2" y="851" width="11" height="10.2" fill="#104862"/>
<text x="2870.38" y="860.40" font-family="Liberation Sans, sans-serif" font-weight="normal" font-style="normal" font-size="15.2" fill="#97a197" textLength="127.84" lengthAdjust="spacingAndGlyphs"  xml:space="preserve">[A1-A3]Product</text>
<rect x="3007.5" y="851" width="11" height="10.2" fill="#FFF100"/>
<text x="3023.53" y="860.40" font-family="Liberation Sans, sans-serif" font-weight="normal" font-style="normal" font-size="15.2" fill="#97a197" textLength="144.29" lengthAdjust="spacingAndGlyphs"  xml:space="preserve">[A4]Construction</text>
<rect x="3175.9" y="851" width="11" height="10.2" fill="#C04F15"/>
<text x="3191.67" y="860.40" font-family="Liberation Sans, sans-serif" font-weight="normal" font-style="normal" font-size="15.2" fill="#97a197" textLength="145.44" lengthAdjust="spacingAndGlyphs"  xml:space="preserve">[B4]Replacement</text>
<rect x="3346.5" y="851" width="11" height="10.2" fill="#F6C6AD"/>
<text x="3362.10" y="860.40" font-family="Liberation Sans, sans-serif" font-weight="normal" font-style="normal" font-size="15.2" fill="#97a197" textLength="152.26" lengthAdjust="spacingAndGlyphs"  xml:space="preserve">[C2-C4]End of Life</text>
<rect x="3523.5" y="851" width="11" height="10.2" fill="#DBF2D3"/>
<text x="3539.06" y="860.40" font-family="Liberation Sans, sans-serif" font-weight="normal" font-style="normal" font-size="15.2" fill="#97a197" textLength="106.56" lengthAdjust="spacingAndGlyphs"  xml:space="preserve">[D]Module D</text>
</g>
<g id="sunburst">
<path d="M3216.60,1344.70 A222.5,222.5 0 1 1 2998.20,1524.69 L3107.06,1545.88 A111.6,111.6 0 1 0 3216.60,1455.60 Z" fill="#155E82" stroke="#eef3f6" stroke-width="1" stroke-linejoin="round"/>
<path d="M2998.20,1524.69 A222.5,222.5 0 0 1 3216.60,1344.70 L3216.60,1455.60 A111.6,111.6 0 0 0 3107.06,1545.88 Z" fill="#E87031" stroke="#eef3f6" stroke-width="1" stroke-linejoin="round"/>
<path d="M3216.60,1234.20 A333.0,333.0 0 0 1 3454.17,1800.55 L3375.34,1723.11 A222.5,222.5 0 0 0 3216.60,1344.70 Z" fill="#0B2F43" stroke="#eef3f6" stroke-width="1" stroke-linejoin="round"/>
<path d="M3454.17,1800.55 A333.0,333.0 0 0 1 3209.44,1900.12 L3211.81,1789.65 A222.5,222.5 0 0 0 3375.34,1723.11 Z" fill="#0F4461" stroke="#eef3f6" stroke-width="1" stroke-linejoin="round"/>
<path d="M3209.44,1900.12 A333.0,333.0 0 0 1 2995.43,1816.14 L3068.82,1733.53 A222.5,222.5 0 0 0 3211.81,1789.65 Z" fill="#1F88BA" stroke="#eef3f6" stroke-width="1" stroke-linejoin="round"/>
<path d="M2995.43,1816.14 A333.0,333.0 0 0 1 2928.39,1734.00 L3024.03,1678.65 A222.5,222.5 0 0 0 3068.82,1733.53 Z" fill="#45ADE0" stroke="#eef3f6" stroke-width="1" stroke-linejoin="round"/>
<path d="M2928.39,1734.00 A333.0,333.0 0 0 1 2892.68,1644.44 L3000.17,1618.81 A222.5,222.5 0 0 0 3024.03,1678.65 Z" fill="#86CAEB" stroke="#eef3f6" stroke-width="1" stroke-linejoin="round"/>
<path d="M2892.68,1644.44 A333.0,333.0 0 0 1 2885.94,1606.63 L2995.67,1593.54 A222.5,222.5 0 0 0 3000.17,1618.81 Z" fill="#A5D8F0" stroke="#eef3f6" stroke-width="1" stroke-linejoin="round"/>
<path d="M2885.94,1606.63 A333.0,333.0 0 0 1 2883.85,1579.98 L2994.26,1575.74 A222.5,222.5 0 0 0 2995.67,1593.54 Z" fill="#C4E4F5" stroke="#eef3f6" stroke-width="1" stroke-linejoin="round"/>
<path d="M2883.85,1579.98 A333.0,333.0 0 0 1 2883.65,1561.39 L2994.13,1563.32 A222.5,222.5 0 0 0 2994.26,1575.74 Z" fill="#C4E4F5" stroke="#eef3f6" stroke-width="1" stroke-linejoin="round"/>
<path d="M2883.65,1561.39 A333.0,333.0 0 0 1 2884.49,1542.81 L2994.70,1550.90 A222.5,222.5 0 0 0 2994.13,1563.32 Z" fill="#C4E4F5" stroke="#eef3f6" stroke-width="1" stroke-linejoin="round"/>
<path d="M2884.49,1542.81 A333.0,333.0 0 0 1 2886.08,1526.62 L2995.76,1540.08 A222.5,222.5 0 0 0 2994.70,1550.90 Z" fill="#C4E4F5" stroke="#eef3f6" stroke-width="1" stroke-linejoin="round"/>
<path d="M2886.08,1526.62 A333.0,333.0 0 0 1 2887.52,1516.26 L2996.72,1533.16 A222.5,222.5 0 0 0 2995.76,1540.08 Z" fill="#C4E4F5" stroke="#eef3f6" stroke-width="1" stroke-linejoin="round"/>
<path d="M2887.52,1516.26 A333.0,333.0 0 0 1 2888.36,1511.09 L2997.28,1529.71 A222.5,222.5 0 0 0 2996.72,1533.16 Z" fill="#C4E4F5" stroke="#eef3f6" stroke-width="1" stroke-linejoin="round"/>
<path d="M2888.36,1511.09 A333.0,333.0 0 0 1 2888.97,1507.66 L2997.69,1527.42 A222.5,222.5 0 0 0 2997.28,1529.71 Z" fill="#C4E4F5" stroke="#eef3f6" stroke-width="1" stroke-linejoin="round"/>
<path d="M2888.97,1507.66 A333.0,333.0 0 0 1 2889.50,1504.80 L2998.04,1525.51 A222.5,222.5 0 0 0 2997.69,1527.42 Z" fill="#C4E4F5" stroke="#eef3f6" stroke-width="1" stroke-linejoin="round"/>
<path d="M2889.50,1504.80 A333.0,333.0 0 0 1 2889.73,1503.57 L2998.20,1524.69 A222.5,222.5 0 0 0 2998.04,1525.51 Z" fill="#C4E4F5" stroke="#eef3f6" stroke-width="1" stroke-linejoin="round"/>
<path d="M2889.73,1503.57 A333.0,333.0 0 0 1 2973.84,1339.26 L3054.39,1414.90 A222.5,222.5 0 0 0 2998.20,1524.69 Z" fill="#E87031" stroke="#eef3f6" stroke-width="1" stroke-linejoin="round"/>
<path d="M2973.84,1339.26 A333.0,333.0 0 0 1 3070.39,1268.01 L3118.91,1367.29 A222.5,222.5 0 0 0 3054.39,1414.90 Z" fill="#F2A883" stroke="#eef3f6" stroke-width="1" stroke-linejoin="round"/>
<path d="M3070.39,1268.01 A333.0,333.0 0 0 1 3175.29,1236.77 L3189.00,1346.42 A222.5,222.5 0 0 0 3118.91,1367.29 Z" fill="#F7C6AD" stroke="#eef3f6" stroke-width="1" stroke-linejoin="round"/>
<path d="M3175.29,1236.77 A333.0,333.0 0 0 1 3216.60,1234.20 L3216.60,1344.70 A222.5,222.5 0 0 0 3189.00,1346.42 Z" fill="#FCE2D6" stroke="#eef3f6" stroke-width="1" stroke-linejoin="round"/>
<g transform="translate(3468.1,1458.4) rotate(-23.40)">
<text x="-44.34" y="-12.47" font-family="Liberation Sans, sans-serif" font-weight="normal" font-style="normal" font-size="14.5" fill="#fff" textLength="88.49" lengthAdjust="spacingAndGlyphs"  xml:space="preserve">Metal Curtain</text>
<text x="-16.57" y="5.22" font-family="Liberation Sans, sans-serif" font-weight="normal" font-style="normal" font-size="14.5" fill="#fff" textLength="33.59" lengthAdjust="spacingAndGlyphs"  xml:space="preserve">Walls</text>
<text x="-31.04" y="22.91" font-family="Liberation Sans, sans-serif" font-weight="normal" font-style="normal" font-size="14.5" fill="#fff" textLength="61.65" lengthAdjust="spacingAndGlyphs"  xml:space="preserve">1,583,929</text>
</g>
<g transform="translate(3321.4,1824.7) rotate(67.86)">
<text x="-42.71" y="-12.47" font-family="Liberation Sans, sans-serif" font-weight="normal" font-style="normal" font-size="14.5" fill="#fff" textLength="85.66" lengthAdjust="spacingAndGlyphs"  xml:space="preserve">Glass Curtain</text>
<text x="-16.57" y="5.22" font-family="Liberation Sans, sans-serif" font-weight="normal" font-style="normal" font-size="14.5" fill="#fff" textLength="33.59" lengthAdjust="spacingAndGlyphs"  xml:space="preserve">Walls</text>
<text x="-25.56" y="22.91" font-family="Liberation Sans, sans-serif" font-weight="normal" font-style="normal" font-size="14.5" fill="#fff" textLength="50.99" lengthAdjust="spacingAndGlyphs"  xml:space="preserve">550,564</text>
</g>
<g transform="translate(3117.3,1826.9) rotate(290.93)">
<text x="-27.20" y="-3.75" font-family="Liberation Sans, sans-serif" font-weight="normal" font-style="normal" font-size="15" fill="#fff" textLength="54.22" lengthAdjust="spacingAndGlyphs"  xml:space="preserve">Flooring</text>
<text x="-26.29" y="14.55" font-family="Liberation Sans, sans-serif" font-weight="normal" font-style="normal" font-size="15" fill="#fff" textLength="52.88" lengthAdjust="spacingAndGlyphs"  xml:space="preserve">475,663</text>
</g>
<g transform="translate(3000.5,1743.6) rotate(320.78)">
<text x="-33.19" y="-3.75" font-family="Liberation Sans, sans-serif" font-weight="normal" font-style="normal" font-size="15" fill="#fff" textLength="66.19" lengthAdjust="spacingAndGlyphs"  xml:space="preserve">Plastering</text>
<text x="-26.74" y="14.55" font-family="Liberation Sans, sans-serif" font-weight="normal" font-style="normal" font-size="15" fill="#fff" textLength="53.33" lengthAdjust="spacingAndGlyphs"  xml:space="preserve">215,775</text>
</g>
<g transform="translate(2958.3,1672.8) rotate(337.76)">
<text x="-51.80" y="-10.49" font-family="Liberation Sans, sans-serif" font-weight="normal" font-style="normal" font-size="12.2" fill="#fff" textLength="103.55" lengthAdjust="spacingAndGlyphs"  xml:space="preserve">Ceramic and Stone</text>
<text x="-25.65" y="4.39" font-family="Liberation Sans, sans-serif" font-weight="normal" font-style="normal" font-size="12.2" fill="#fff" textLength="51.53" lengthAdjust="spacingAndGlyphs"  xml:space="preserve">Cladding</text>
<text x="-22.42" y="19.28" font-family="Liberation Sans, sans-serif" font-weight="normal" font-style="normal" font-size="12.2" fill="#fff" textLength="44.47" lengthAdjust="spacingAndGlyphs"  xml:space="preserve">196,069</text>
</g>
<g transform="translate(2968.2,1440.1) rotate(387.11)">
<text x="-21.24" y="-3.88" font-family="Liberation Sans, sans-serif" font-weight="normal" font-style="normal" font-size="15.5" fill="#fff" textLength="41.84" lengthAdjust="spacingAndGlyphs"  xml:space="preserve">HVAC</text>
<text x="-27.10" y="15.04" font-family="Liberation Sans, sans-serif" font-weight="normal" font-style="normal" font-size="15.5" fill="#fff" textLength="54.35" lengthAdjust="spacingAndGlyphs"  xml:space="preserve">379,012</text>
</g>
<g transform="translate(3050.9,1342.7) rotate(413.58)">
<text x="-23.71" y="-3.88" font-family="Liberation Sans, sans-serif" font-weight="normal" font-style="normal" font-size="15.5" fill="#fff" textLength="47.28" lengthAdjust="spacingAndGlyphs"  xml:space="preserve">Others</text>
<text x="-27.25" y="15.04" font-family="Liberation Sans, sans-serif" font-weight="normal" font-style="normal" font-size="15.5" fill="#fff" textLength="54.43" lengthAdjust="spacingAndGlyphs"  xml:space="preserve">244,509</text>
</g>
<g transform="translate(3137.0,1299.8) rotate(433.42)">
<text x="-32.27" y="-3.88" font-family="Liberation Sans, sans-serif" font-weight="normal" font-style="normal" font-size="15.5" fill="#fff" textLength="64.33" lengthAdjust="spacingAndGlyphs"  xml:space="preserve">Electrical</text>
<text x="-27.27" y="15.04" font-family="Liberation Sans, sans-serif" font-weight="normal" font-style="normal" font-size="15.5" fill="#fff" textLength="54.47" lengthAdjust="spacingAndGlyphs"  xml:space="preserve">222,811</text>
</g>
<g transform="translate(3196.3,1287.9) rotate(445.84)">
<text x="-20.80" y="-2.50" font-family="Liberation Sans, sans-serif" font-weight="normal" font-style="normal" font-size="10" fill="#C55A11" textLength="41.43" lengthAdjust="spacingAndGlyphs"  xml:space="preserve">Plumbing</text>
<text x="-14.68" y="9.70" font-family="Liberation Sans, sans-serif" font-weight="normal" font-style="normal" font-size="10" fill="#C55A11" textLength="29.20" lengthAdjust="spacingAndGlyphs"  xml:space="preserve">83,924</text>
</g>
<g transform="translate(3111.0,1439.1) rotate(410.50)">
<text x="-19.42" y="-4.37" font-family="Liberation Sans, sans-serif" font-weight="normal" font-style="normal" font-size="17.5" fill="#fff" textLength="38.34" lengthAdjust="spacingAndGlyphs"  xml:space="preserve">MEP</text>
<text x="-31.79" y="16.97" font-family="Liberation Sans, sans-serif" font-weight="normal" font-style="normal" font-size="17.5" fill="#fff" textLength="63.49" lengthAdjust="spacingAndGlyphs"  xml:space="preserve">930,256</text>
</g>
<g transform="translate(3325.1,1694.2) rotate(49.50)">
<text x="-47.25" y="-4.37" font-family="Liberation Sans, sans-serif" font-weight="normal" font-style="normal" font-size="17.5" fill="#fff" textLength="95.67" lengthAdjust="spacingAndGlyphs"  xml:space="preserve">Architectural</text>
<text x="-37.68" y="16.97" font-family="Liberation Sans, sans-serif" font-weight="normal" font-style="normal" font-size="17.5" fill="#fff" textLength="75.16" lengthAdjust="spacingAndGlyphs"  xml:space="preserve">3,309,694</text>
</g>
<text x="3169.51" y="1545.20" font-family="Liberation Sans, sans-serif" font-weight="normal" font-style="normal" font-size="18" fill="#3F7F95" textLength="103.45" lengthAdjust="spacingAndGlyphs"  xml:space="preserve">B4 Emission</text>
<text x="3159.28" y="1570.00" font-family="Liberation Sans, sans-serif" font-weight="normal" font-style="normal" font-size="18" fill="#3F7F95" textLength="125.84" lengthAdjust="spacingAndGlyphs"  xml:space="preserve">Over 100 Years</text>
<text x="3136.05" y="1594.80" font-family="Liberation Sans, sans-serif" font-weight="normal" font-style="normal" font-size="18" fill="#3F7F95" textLength="130.73" lengthAdjust="spacingAndGlyphs"  xml:space="preserve">4,239,950 kg CO</text>
<text x="3267.84" y="1598.50" font-family="Liberation Sans, sans-serif" font-weight="normal" font-style="normal" font-size="12.5" fill="#3F7F95" textLength="10.63" lengthAdjust="spacingAndGlyphs"  xml:space="preserve">2</text>
<text x="3283.75" y="1594.80" font-family="Liberation Sans, sans-serif" font-weight="normal" font-style="normal" font-size="18" fill="#3F7F95" textLength="20.92" lengthAdjust="spacingAndGlyphs"  xml:space="preserve">eq</text>
</g>
<g id="equations">
<text x="1624.50" y="1561.70" font-family="Liberation Serif, serif" font-style="italic" font-size="47" fill="#000" stroke="#000" stroke-width="0.5" textLength="27.33" lengthAdjust="spacingAndGlyphs">N</text>
<text x="1656.61" y="1572.70" font-family="Liberation Serif, serif" font-style="italic" font-size="33" fill="#000" stroke="#000" stroke-width="0.5" textLength="11.18" lengthAdjust="spacingAndGlyphs">i</text>
<line x1="1681.5" x2="1709.7" y1="1542.7" y2="1542.7" stroke="#000" stroke-width="3"/>
<line x1="1681.5" x2="1709.7" y1="1554.9" y2="1554.9" stroke="#000" stroke-width="3"/>
<path d="M1738.4,1486.3 H1727.8 V1620.7 H1738.4" fill="none" stroke="#000" stroke-width="2.4"/>
<path d="M1727.8,1485.1 V1621.9" fill="none" stroke="#000" stroke-width="4.6"/>
<text x="1739.87" y="1538.10" font-family="Liberation Serif, serif" font-style="italic" font-size="47" fill="#000" stroke="#000" stroke-width="0.5" textLength="381.82" lengthAdjust="spacingAndGlyphs">Building Lifespan</text>
<line x1="1739.1" x2="2120.9" y1="1554.0" y2="1554.0" stroke="#000" stroke-width="2.6"/>
<text x="1886.84" y="1588.10" font-family="Liberation Serif, serif" font-style="italic" font-size="47" fill="#000" stroke="#000" stroke-width="0.5" textLength="73.94" lengthAdjust="spacingAndGlyphs">ESL</text>
<text x="1962.41" y="1600.90" font-family="Liberation Serif, serif" font-style="italic" font-size="33" fill="#000" stroke="#000" stroke-width="0.5" textLength="11.18" lengthAdjust="spacingAndGlyphs">i</text>
<path d="M2122.2,1486.3 H2132.8 V1620.7 H2122.2" fill="none" stroke="#000" stroke-width="2.4"/>
<path d="M2132.8,1485.1 V1621.9" fill="none" stroke="#000" stroke-width="4.6"/>
<line x1="2149.6" x2="2177.8" y1="1549.2" y2="1549.2" stroke="#000" stroke-width="3"/>
<text x="2186.99" y="1561.70" font-family="Liberation Serif, serif" font-style="normal" font-size="47" fill="#000" stroke="#000" stroke-width="0.5" textLength="25.35" lengthAdjust="spacingAndGlyphs">1</text>
<text x="1434.03" y="1724.80" font-family="Liberation Serif, serif" font-style="italic" font-size="47" fill="#000" stroke="#000" stroke-width="0.5" textLength="26.45" lengthAdjust="spacingAndGlyphs">E</text>
<text x="1462.20" y="1736.50" font-family="Liberation Serif, serif" font-style="italic" font-size="33" fill="#000" stroke="#000" stroke-width="0.5" textLength="24.51" lengthAdjust="spacingAndGlyphs">B</text>
<text x="1486.71" y="1736.50" font-family="Liberation Serif, serif" font-style="normal" font-size="33" fill="#000" stroke="#000" stroke-width="0.5" textLength="20.06" lengthAdjust="spacingAndGlyphs">4</text>
<text x="1506.77" y="1736.50" font-family="Liberation Serif, serif" font-style="italic" font-size="33" fill="#000" stroke="#000" stroke-width="0.5" textLength="10.03" lengthAdjust="spacingAndGlyphs">,</text>
<text x="1516.79" y="1736.50" font-family="Liberation Serif, serif" font-style="italic" font-size="33" fill="#000" stroke="#000" stroke-width="0.5" textLength="138.18" lengthAdjust="spacingAndGlyphs">Building</text>
<line x1="1669.0" x2="1697.8" y1="1705.2" y2="1705.2" stroke="#000" stroke-width="3"/>
<line x1="1669.0" x2="1697.8" y1="1716.2" y2="1716.2" stroke="#000" stroke-width="3"/>
<path d="M1709.9,1671.5 L1764.9,1671.5 L1764.9,1684.9 L1762.1,1684.9 L1760,1677.4 L1721.9,1677.4 L1746.6,1711.8 L1718.7,1752.6 L1760.7,1752.6 L1762.8,1743.2 L1765.5,1743.2 L1765.5,1758.3 L1709.3,1758.3 L1709.3,1755.8 L1738.7,1712.2 L1709.9,1674 Z" fill="#000"/>
<text x="1730.74" y="1663.50" font-family="Liberation Serif, serif" font-style="italic" font-size="30" fill="#000" stroke="#000" stroke-width="0.5" textLength="18.30" lengthAdjust="spacingAndGlyphs">n</text>
<text x="1712.12" y="1785.10" font-family="Liberation Serif, serif" font-style="italic" font-size="30" fill="#000" stroke="#000" stroke-width="0.5" textLength="10.17" lengthAdjust="spacingAndGlyphs">i</text>
<line x1="1726.6" x2="1746.0" y1="1772.6" y2="1772.6" stroke="#000" stroke-width="2.2"/>
<line x1="1726.6" x2="1746.0" y1="1779.2" y2="1779.2" stroke="#000" stroke-width="2.2"/>
<text x="1749.29" y="1785.10" font-family="Liberation Serif, serif" font-style="normal" font-size="30" fill="#000" stroke="#000" stroke-width="0.5" textLength="18.30" lengthAdjust="spacingAndGlyphs">1</text>
<text x="1777.21" y="1724.80" font-family="Liberation Serif, serif" font-style="italic" font-size="47" fill="#000" stroke="#000" stroke-width="0.5" textLength="28.16" lengthAdjust="spacingAndGlyphs">N</text>
<text x="1809.66" y="1736.50" font-family="Liberation Serif, serif" font-style="italic" font-size="33" fill="#000" stroke="#000" stroke-width="0.5" textLength="11.18" lengthAdjust="spacingAndGlyphs">i</text>
<path d="M1834.5,1701.2 L1857.7,1724.4 M1857.7,1701.2 L1834.5,1724.4" stroke="#000" stroke-width="3" fill="none"/>
<text x="1870.38" y="1724.80" font-family="Liberation Serif, serif" font-style="normal" font-size="47" fill="#000" stroke="#000" stroke-width="0.5" textLength="17.89" lengthAdjust="spacingAndGlyphs">(</text>
<text x="1890.04" y="1724.80" font-family="Liberation Serif, serif" font-style="italic" font-size="47" fill="#000" stroke="#000" stroke-width="0.5" textLength="26.66" lengthAdjust="spacingAndGlyphs">E</text>
<text x="1919.06" y="1736.50" font-family="Liberation Serif, serif" font-style="italic" font-size="33" fill="#000" stroke="#000" stroke-width="0.5" textLength="22.89" lengthAdjust="spacingAndGlyphs">A</text>
<text x="1941.95" y="1736.50" font-family="Liberation Serif, serif" font-style="normal" font-size="33" fill="#000" stroke="#000" stroke-width="0.5" textLength="39.88" lengthAdjust="spacingAndGlyphs">1−</text>
<text x="1981.83" y="1736.50" font-family="Liberation Serif, serif" font-style="italic" font-size="33" fill="#000" stroke="#000" stroke-width="0.5" textLength="22.89" lengthAdjust="spacingAndGlyphs">A</text>
<text x="2004.72" y="1736.50" font-family="Liberation Serif, serif" font-style="normal" font-size="33" fill="#000" stroke="#000" stroke-width="0.5" textLength="18.74" lengthAdjust="spacingAndGlyphs">3</text>
<text x="2023.46" y="1736.50" font-family="Liberation Serif, serif" font-style="italic" font-size="33" fill="#000" stroke="#000" stroke-width="0.5" textLength="9.37" lengthAdjust="spacingAndGlyphs">,</text>
<text x="2032.83" y="1736.50" font-family="Liberation Serif, serif" font-style="italic" font-size="33" fill="#000" stroke="#000" stroke-width="0.5" textLength="10.41" lengthAdjust="spacingAndGlyphs">i</text>
<path d="M2054.1,1710.9 H2082.8 M2068.45,1696.5 V1725.3" stroke="#000" stroke-width="3" fill="none"/>
<text x="2095.22" y="1724.80" font-family="Liberation Serif, serif" font-style="italic" font-size="47" fill="#000" stroke="#000" stroke-width="0.5" textLength="25.65" lengthAdjust="spacingAndGlyphs">E</text>
<text x="2122.85" y="1736.50" font-family="Liberation Serif, serif" font-style="italic" font-size="33" fill="#000" stroke="#000" stroke-width="0.5" textLength="21.67" lengthAdjust="spacingAndGlyphs">A</text>
<text x="2144.52" y="1736.50" font-family="Liberation Serif, serif" font-style="normal" font-size="33" fill="#000" stroke="#000" stroke-width="0.5" textLength="17.74" lengthAdjust="spacingAndGlyphs">4</text>
<text x="2162.26" y="1736.50" font-family="Liberation Serif, serif" font-style="italic" font-size="33" fill="#000" stroke="#000" stroke-width="0.5" textLength="8.87" lengthAdjust="spacingAndGlyphs">,</text>
<text x="2171.13" y="1736.50" font-family="Liberation Serif, serif" font-style="italic" font-size="33" fill="#000" stroke="#000" stroke-width="0.5" textLength="9.86" lengthAdjust="spacingAndGlyphs">i</text>
<path d="M2192,1710.9 H2220.9 M2206.45,1696.5 V1725.3" stroke="#000" stroke-width="3" fill="none"/>
<text x="2232.82" y="1724.80" font-family="Liberation Serif, serif" font-style="italic" font-size="47" fill="#000" stroke="#000" stroke-width="0.5" textLength="25.65" lengthAdjust="spacingAndGlyphs">E</text>
<text x="2258.71" y="1736.50" font-family="Liberation Serif, serif" font-style="italic" font-size="33" fill="#000" stroke="#000" stroke-width="0.5" textLength="24.14" lengthAdjust="spacingAndGlyphs">C</text>
<text x="2282.85" y="1736.50" font-family="Liberation Serif, serif" font-style="normal" font-size="33" fill="#000" stroke="#000" stroke-width="0.5" textLength="38.51" lengthAdjust="spacingAndGlyphs">1−</text>
<text x="2321.36" y="1736.50" font-family="Liberation Serif, serif" font-style="italic" font-size="33" fill="#000" stroke="#000" stroke-width="0.5" textLength="24.14" lengthAdjust="spacingAndGlyphs">C</text>
<text x="2345.51" y="1736.50" font-family="Liberation Serif, serif" font-style="normal" font-size="33" fill="#000" stroke="#000" stroke-width="0.5" textLength="18.10" lengthAdjust="spacingAndGlyphs">4</text>
<text x="2363.60" y="1736.50" font-family="Liberation Serif, serif" font-style="italic" font-size="33" fill="#000" stroke="#000" stroke-width="0.5" textLength="9.05" lengthAdjust="spacingAndGlyphs">,</text>
<text x="2372.65" y="1736.50" font-family="Liberation Serif, serif" font-style="italic" font-size="33" fill="#000" stroke="#000" stroke-width="0.5" textLength="10.06" lengthAdjust="spacingAndGlyphs">i</text>
<text x="2383.32" y="1724.80" font-family="Liberation Serif, serif" font-style="normal" font-size="47" fill="#000" stroke="#000" stroke-width="0.5" textLength="18.70" lengthAdjust="spacingAndGlyphs">)</text>
</g>
<g transform="translate(96,576) scale(0.126984)">
<path d="M1140,330 L1190,240 C1200,130 1050,60 950,130 C880,80 760,85 720,130 C620,110 530,170 545,260 C550,330 610,360 640,375 C660,450 740,470 800,480 C830,530 900,535 930,525 C1010,500 1080,440 1140,330 Z" fill="#AED3F1"/>
<path d="M1190,235 C1195,140 1060,75 950,145 M960,150 C990,180 990,210 990,235 M950,140 C880,85 770,90 720,135 M722,135 C745,150 760,160 770,172 M720,135 C615,115 535,180 548,262 C553,330 620,355 675,360 M640,372 C660,440 730,465 795,470 M792,405 C790,470 850,520 922,520" fill="none" stroke="#8DB9E2" stroke-width="38" stroke-linecap="round" stroke-linejoin="round"/>
<polygon points="1100,405 1235,405 1300,900 1038,900" fill="#B19046" />
<path d="M1100,408 V340 Q1100,322 1118,322 H1217 Q1235,322 1235,340 V408 Z" fill="#E0BC57"/>
<path d="M80,745 L270,634 Q300,620 300,650 V745 Z" fill="#C0392B"/>
<path d="M303,745 L493,634 Q523,620 523,650 V745 Z" fill="#C0392B"/>
<path d="M526,745 L716,634 Q746,620 746,650 V745 Z" fill="#C0392B"/>
<path d="M748,745 L938,634 Q968,620 968,650 V745 Z" fill="#C0392B"/>
<rect x="80" y="743" width="888" height="557" rx="0" fill="#D45627" />
<path d="M968,897 H1350 Q1368,897 1368,915 V1300 H968 Z" fill="#F0C419"/>
<path d="M80,832 H260 A22,22 0 0 1 260,876 H80 Z" fill="#F28F48"/>
<rect x="325" y="832" width="290" height="44" rx="22" fill="#F28F48" />
<rect x="170" y="1008" width="155" height="134" rx="18" fill="#AED3F1" />
<rect x="415" y="1008" width="155" height="134" rx="18" fill="#AED3F1" />
<path d="M660,1300 V963 Q660,943 680,943 H860 Q880,943 880,963 V1300 Z" fill="#5B474D"/>
<path d="M660,1008 H790 A22,22 0 0 1 790,1052 H660 Z" fill="#805B53"/>
<path d="M660,1097 H790 A22,22 0 0 1 790,1141 H660 Z" fill="#805B53"/>
<path d="M660,1186 H790 A22,22 0 0 1 790,1230 H660 Z" fill="#805B53"/>
<path d="M968,986 H1078 A22,22 0 0 1 1078,1030 H968 Z" fill="#F3D55B"/>
<rect x="1147" y="986" width="153" height="44" rx="22" fill="#F3D55B" />
<path d="M1102,1300 V1158 Q1102,1140 1120,1140 H1217 Q1235,1140 1235,1158 V1300 Z" fill="#E67E22"/>
<path d="M80,1298 H1368 V1367 Q1368,1385 1350,1385 H98 Q80,1385 80,1367 Z" fill="#805B53"/>
</g>
<g transform="translate(382,576) scale(0.126984)">
<polygon points="362,625 578,625 578,720 655,720 740,808 928,808 928,1332 362,1332" fill="#E6E6E6" />
<rect x="362" y="350" width="43" height="275" rx="0" fill="#0090D4" />
<rect x="405" y="437" width="283" height="43" rx="0" fill="#0090D4" />
<rect x="405" y="548" width="480" height="42" rx="0" fill="#0090D4" />
<rect x="538" y="525" width="42" height="100" rx="0" fill="#0090D4" />
<rect x="712" y="503" width="43" height="305" rx="0" fill="#0090D4" />
<rect x="885" y="458" width="43" height="350" rx="0" fill="#0090D4" />
<rect x="450" y="808" width="45" height="45" rx="0" fill="#00C8E0" />
<rect x="537" y="808" width="45" height="45" rx="0" fill="#00C8E0" />
<rect x="623" y="808" width="45" height="45" rx="0" fill="#00C8E0" />
<rect x="450" y="895" width="45" height="45" rx="0" fill="#00C8E0" />
<rect x="537" y="895" width="45" height="45" rx="0" fill="#00C8E0" />
<rect x="623" y="895" width="45" height="45" rx="0" fill="#00C8E0" />
<rect x="710" y="895" width="45" height="45" rx="0" fill="#00C8E0" />
<rect x="797" y="895" width="45" height="45" rx="0" fill="#00C8E0" />
<rect x="450" y="982" width="45" height="45" rx="0" fill="#00C8E0" />
<rect x="537" y="982" width="45" height="45" rx="0" fill="#00C8E0" />
<rect x="623" y="982" width="45" height="45" rx="0" fill="#00C8E0" />
<rect x="710" y="982" width="45" height="45" rx="0" fill="#00C8E0" />
<rect x="797" y="982" width="45" height="45" rx="0" fill="#00C8E0" />
<rect x="450" y="1068" width="45" height="45" rx="0" fill="#00C8E0" />
<rect x="537" y="1068" width="45" height="45" rx="0" fill="#00C8E0" />
<rect x="623" y="1068" width="45" height="45" rx="0" fill="#00C8E0" />
<rect x="710" y="1068" width="45" height="45" rx="0" fill="#00C8E0" />
<rect x="797" y="1068" width="45" height="45" rx="0" fill="#00C8E0" />
<rect x="450" y="1155" width="45" height="45" rx="0" fill="#00C8E0" />
<rect x="537" y="1155" width="45" height="45" rx="0" fill="#00C8E0" />
<rect x="623" y="1155" width="45" height="45" rx="0" fill="#00C8E0" />
<rect x="710" y="1155" width="45" height="45" rx="0" fill="#00C8E0" />
<rect x="797" y="1155" width="45" height="45" rx="0" fill="#00C8E0" />
<rect x="450" y="1243" width="45" height="45" rx="0" fill="#00C8E0" />
<rect x="537" y="1243" width="45" height="45" rx="0" fill="#00C8E0" />
<rect x="623" y="1243" width="45" height="45" rx="0" fill="#00C8E0" />
<rect x="710" y="1243" width="45" height="45" rx="0" fill="#00C8E0" />
<rect x="797" y="1243" width="45" height="45" rx="0" fill="#00C8E0" />
<rect x="80" y="132" width="1305" height="130" rx="15" fill="#FFCC33" />
<polygon points="122,176 122,218 192,218" fill="#FEF4F0" />
<polygon points="225,178 330,178 277,212" fill="#FEF4F0" />
<polygon points="355,218 455,218 405,182" fill="#FEF4F0" />
<polygon points="485,178 590,178 537,212" fill="#FEF4F0" />
<polygon points="615,218 718,218 667,182" fill="#FEF4F0" />
<polygon points="745,178 850,178 797,212" fill="#FEF4F0" />
<polygon points="875,218 950,218 950,180" fill="#FEF4F0" />
<polygon points="1212,178 1270,178 1212,212" fill="#FEF4F0" />
<polygon points="1290,218 1345,218 1345,185" fill="#FEF4F0" />
<rect x="1015" y="283" width="132" height="1049" rx="0" fill="#FFCC33" />
<polygon points="1103,365 1103,470 1060,418" fill="#FEF4F0" />
<polygon points="1058,495 1058,600 1100,548" fill="#FEF4F0" />
<polygon points="1103,625 1103,730 1060,678" fill="#FEF4F0" />
<polygon points="1058,755 1058,860 1100,808" fill="#FEF4F0" />
<polygon points="1103,885 1103,990 1060,938" fill="#FEF4F0" />
<polygon points="1058,1015 1058,1120 1100,1068" fill="#FEF4F0" />
<polygon points="1103,1145 1103,1250 1060,1198" fill="#FEF4F0" />
<polygon points="1058,310 1088,310 1058,345" fill="#FEF4F0" />
<polygon points="1058,1275 1058,1332 1100,1332" fill="#FEF4F0" />
<rect x="970" y="88" width="220" height="195" rx="0" fill="#236B8B" />
<rect x="970" y="88" width="133" height="132" rx="0" fill="#00C8E0" />
<path d="M1103,88 V220 H970 Q1095,215 1103,88 Z" fill="#85D0D6"/>
<rect x="165" y="242" width="47" height="448" rx="0" fill="#0090D4" />
<path d="M188,668 A48,48 0 1 1 143,728" fill="none" stroke="#0090D4" stroke-width="42"/>
<polygon points="150,785 228,785 272,852 103,852" fill="#B3B3B3" />
<polygon points="103,852 272,852 272,935 230,982 148,982 103,935" fill="#FFCC33" />
<polygon points="125,1332 208,1245 295,1332" fill="#B3B3B3" />
<circle cx="1277" cy="1198" r="44" fill="#FEF4F0" stroke="#6FC0BD" stroke-width="42"/>
<circle cx="1232" cy="1288" r="44" fill="#FEF4F0" stroke="#6FC0BD" stroke-width="42"/>
<circle cx="1322" cy="1288" r="44" fill="#FEF4F0" stroke="#6FC0BD" stroke-width="42"/>
<rect x="80" y="1330" width="1305" height="45" rx="0" fill="#603813" />
</g>
<g transform="translate(668,572) scale(0.126984)">
<path d="M405,355 A288,288 0 0 1 692,67 V900 H405 Z" fill="#DCDB3A"/><path d="M692,67 A288,288 0 0 1 980,355 V900 H692 Z" fill="#9FBE2A"/>
<path d="M600,505 L680,590" stroke="#A24F3F" stroke-width="72" stroke-linecap="round"/>
<path d="M655,700 V382 A37,37 0 0 1 692,345 V700 Z" fill="#A24F3F"/><path d="M692,345 A37,37 0 0 1 729,382 V700 H692 Z" fill="#8B3E2F"/>
<path d="M290,285 C250,285 75,560 75,780 C75,1000 180,1140 290,1140 Z" fill="#DCDB3A"/><path d="M290,285 C330,285 500,560 500,780 C500,1000 400,1140 290,1140 Z" fill="#9FBE2A"/>
<rect x="250" y="1130" width="40" height="170" rx="0" fill="#C56E58" />
<rect x="290" y="1130" width="37" height="170" rx="0" fill="#A24F3F" />
<path d="M1215,68 A170,170 0 0 0 1215,408 Z" fill="#FFDC52"/><path d="M1215,68 A170,170 0 0 1 1215,408 Z" fill="#FFB454"/>
<rect x="1180" y="565" width="78" height="255" rx="38" fill="#FF3F62" />
<polygon points="450,905 872,560 872,1300 450,1300" fill="#FFF1E0" />
<polygon points="872,560 1298,905 1298,1300 872,1300" fill="#FFE5C6" />
<path d="M398,928 L872,515" stroke="#FF3F62" stroke-width="76" stroke-linecap="round"/><path d="M1347,928 L872,515" stroke="#E4005C" stroke-width="76" stroke-linecap="round"/>
<path d="M872,470 L872,560 L830,597 L780,547 Z" fill="#FF3F62"/>
<path d="M553,1300 V970 Q553,940 583,940 H752 Q782,940 782,970 V1300 Z" fill="#A24F3F"/>
<rect x="918" y="940" width="262" height="258" rx="35" fill="#A24F3F" />
<rect x="992" y="1015" width="113" height="110" rx="0" fill="#C1FCFF" />
<path d="M112,1298 H730 V1378 H112 A40,40 0 0 1 112,1298 Z" fill="#DCDB3A"/><path d="M730,1298 H1345 A40,40 0 0 1 1345,1378 H730 Z" fill="#9FBE2A"/>
</g>
<g transform="translate(958,576) scale(0.126984)">
<polygon points="720,90 1035,145 1020,240 705,185" fill="#B5CBE8" stroke="#000" stroke-width="46" stroke-linejoin="round" stroke-linecap="round"/>
<polygon points="590,185 1130,270 1020,1020 455,1020" fill="#D7E3F4" />
<polygon points="1085,265 1130,270 1020,1020 965,1020" fill="#B5CBE8" />
<path d="M543,495 L590,185 L1130,270 L1020,1000 M520,572 L455,1000" fill="none" stroke="#000" stroke-width="46" stroke-linejoin="round" stroke-linecap="round"/>
<rect x="680" y="322" width="100" height="100" rx="12" fill="#5EA5FB" transform="rotate(9 730 372)" stroke="#000" stroke-width="46" stroke-linejoin="round" stroke-linecap="round"/>
<rect x="890" y="355" width="100" height="100" rx="12" fill="#5EA5FB" transform="rotate(9 940 405)" stroke="#000" stroke-width="46" stroke-linejoin="round" stroke-linecap="round"/>
<rect x="640" y="545" width="100" height="100" rx="12" fill="#5EA5FB" transform="rotate(9 690 595)" stroke="#000" stroke-width="46" stroke-linejoin="round" stroke-linecap="round"/>
<rect x="850" y="580" width="100" height="100" rx="12" fill="#5EA5FB" transform="rotate(9 900 630)" stroke="#000" stroke-width="46" stroke-linejoin="round" stroke-linecap="round"/>
<polygon points="120,1360 290,1290 235,1140 380,1165 360,940 600,1065 712,745 820,1060 1045,945 1025,1165 1175,1140 1120,1290 1310,1360" fill="#EE7D30" />
<polygon points="712,745 820,1060 790,1075 712,830" fill="#DB6B28" />
<polygon points="1045,945 1025,1165 985,1175 1000,970" fill="#DB6B28" />
<polygon points="1175,1140 1120,1290 1080,1270 1130,1150" fill="#DB6B28" />
<path d="M120,1360 L290,1290 L235,1140 L380,1165 L360,940 L600,1065 L712,745 L820,1060 L1045,945 L1025,1165 L1175,1140 L1120,1290 L1310,1360" fill="none" stroke="#000" stroke-width="46" stroke-linejoin="round" stroke-linecap="round"/>
<polygon points="480,1345 435,1278 520,1270 505,1190 640,1240 712,1115 785,1240 910,1190 895,1270 990,1275 945,1345" fill="#FAD63F" />
<path d="M480,1345 L435,1278 L520,1270 L505,1190 L640,1240 L712,1115 L785,1240 L910,1190 L895,1270 L990,1275 L945,1345" fill="none" stroke="#000" stroke-width="46" stroke-linejoin="round" stroke-linecap="round"/>
<path d="M120,1360 H700 M790,1360 H1310" fill="none" stroke="#000" stroke-width="46" stroke-linejoin="round" stroke-linecap="round"/>
</g>
<g transform="translate(116,890) scale(0.124224)">
<rect x="97" y="97" width="295" height="590" rx="0" fill="#FF8859" />
<rect x="392" y="97" width="295" height="590" rx="0" fill="#FF405D" />
<rect x="97" y="612" width="295" height="75" rx="0" fill="#FF405D" />
<rect x="392" y="612" width="295" height="75" rx="0" fill="#C73C50" />
<rect x="762" y="762" width="294" height="590" rx="0" fill="#FFE278" />
<rect x="1056" y="762" width="296" height="590" rx="0" fill="#FFB454" />
<rect x="762" y="1278" width="294" height="74" rx="0" fill="#FFB454" />
<rect x="1056" y="1278" width="296" height="74" rx="0" fill="#FF7B47" />
<clipPath id="cA"><rect x="700" y="100" width="357" height="650"/></clipPath><clipPath id="cB"><rect x="1057" y="100" width="300" height="650"/></clipPath>
<path d="M762,207 A295,295 0 0 1 1057,502 V600" fill="none" stroke="#2FE8A9" stroke-width="74"/><path d="M947,566 L1057,641 L1167,566" fill="none" stroke="#2FE8A9" stroke-width="74"/><g clip-path="url(#cB)"><path d="M762,207 A295,295 0 0 1 1057,502 V600" fill="none" stroke="#24B3B4" stroke-width="74"/><path d="M947,566 L1057,641 L1167,566" fill="none" stroke="#24B3B4" stroke-width="74"/></g>
<clipPath id="cC"><rect x="200" y="700" width="192" height="650"/></clipPath><clipPath id="cD"><rect x="392" y="700" width="300" height="650"/></clipPath>
<path d="M687,1242 A295,295 0 0 1 392,947 V850" fill="none" stroke="#2FE8A9" stroke-width="74"/><path d="M282,882 L392,807 L502,882" fill="none" stroke="#2FE8A9" stroke-width="74"/><g clip-path="url(#cD)"><path d="M687,1242 A295,295 0 0 1 392,947 V850" fill="none" stroke="#24B3B4" stroke-width="74"/><path d="M282,882 L392,807 L502,882" fill="none" stroke="#24B3B4" stroke-width="74"/></g>
</g>
<g transform="translate(104,1690) scale(0.114574)">
<rect x="80" y="165" width="1438" height="1137" rx="45" fill="#EFF2FA" />
<path d="M80,315 V210 Q80,165 125,165 H1473 Q1518,165 1518,210 V315 Z" fill="#C3E678"/>
<rect x="130" y="217" width="245" height="48" rx="24" fill="#E8F5A6" />
<rect x="428" y="217" width="96" height="48" rx="24" fill="#E8F5A6" />
<rect x="1222" y="217" width="96" height="48" rx="24" fill="#E8F5A6" />
<rect x="1370" y="217" width="98" height="48" rx="24" fill="#E8F5A6" />
<rect x="80" y="315" width="1438" height="150" rx="0" fill="#D7DEED" />
<rect x="80" y="465" width="1438" height="50" rx="0" fill="#C5CEE2" />
<rect x="130" y="365" width="120" height="48" rx="24" fill="#AAB5D2" />
<rect x="303" y="365" width="124" height="48" rx="24" fill="#FFD47A" />
<rect x="477" y="365" width="73" height="48" rx="24" fill="#AFE0F8" />
<rect x="601" y="365" width="73" height="48" rx="24" fill="#AFE0F8" />
<rect x="725" y="365" width="123" height="48" rx="24" fill="#C3CBDF" />
<rect x="898" y="365" width="98" height="48" rx="24" fill="#F0F1F8" />
<rect x="1046" y="365" width="98" height="48" rx="24" fill="#F0F1F8" />
<rect x="1196" y="365" width="123" height="48" rx="24" fill="#C3CBDF" />
<rect x="1370" y="365" width="98" height="48" rx="24" fill="#C3CBDF" />
<rect x="130" y="565" width="147" height="70" rx="22" fill="#D7DEED" />
<rect x="328" y="565" width="146" height="70" rx="22" fill="#9096AD" />
<rect x="526" y="565" width="146" height="70" rx="22" fill="#9096AD" />
<rect x="725" y="565" width="147" height="70" rx="22" fill="#9096AD" />
<rect x="924" y="565" width="146" height="70" rx="22" fill="#9096AD" />
<rect x="1122" y="565" width="146" height="70" rx="22" fill="#9096AD" />
<rect x="1320" y="565" width="147" height="70" rx="22" fill="#9096AD" />
<rect x="130" y="688" width="147" height="72" rx="22" fill="#C3E678" />
<rect x="328" y="688" width="146" height="72" rx="22" fill="#D7DEED" />
<rect x="526" y="688" width="146" height="72" rx="22" fill="#D7DEED" />
<rect x="725" y="688" width="147" height="72" rx="22" fill="#D7DEED" />
<rect x="924" y="688" width="146" height="72" rx="22" fill="#D7DEED" />
<rect x="1122" y="688" width="146" height="72" rx="22" fill="#D7DEED" />
<rect x="1320" y="688" width="147" height="72" rx="22" fill="#D7DEED" />
<rect x="130" y="812" width="147" height="73" rx="22" fill="#C3E678" />
<rect x="328" y="812" width="146" height="73" rx="22" fill="#D7DEED" />
<rect x="526" y="812" width="146" height="73" rx="22" fill="#D7DEED" />
<rect x="725" y="812" width="147" height="73" rx="22" fill="#D7DEED" />
<rect x="924" y="812" width="146" height="73" rx="22" fill="#D7DEED" />
<rect x="1122" y="812" width="146" height="73" rx="22" fill="#D7DEED" />
<rect x="1320" y="812" width="147" height="73" rx="22" fill="#D7DEED" />
<rect x="130" y="937" width="147" height="73" rx="22" fill="#C3E678" />
<rect x="328" y="937" width="146" height="73" rx="22" fill="#D7DEED" />
<rect x="526" y="937" width="146" height="73" rx="22" fill="#D7DEED" />
<rect x="725" y="937" width="147" height="73" rx="22" fill="#D7DEED" />
<rect x="924" y="937" width="146" height="73" rx="22" fill="#D7DEED" />
<rect x="1122" y="937" width="146" height="73" rx="22" fill="#D7DEED" />
<rect x="1320" y="937" width="147" height="73" rx="22" fill="#D7DEED" />
<rect x="130" y="1060" width="147" height="73" rx="22" fill="#C3E678" />
<rect x="328" y="1060" width="146" height="73" rx="22" fill="#D7DEED" />
<rect x="526" y="1060" width="146" height="73" rx="22" fill="#D7DEED" />
<rect x="725" y="1060" width="147" height="73" rx="22" fill="#D7DEED" />
<rect x="924" y="1060" width="146" height="73" rx="22" fill="#D7DEED" />
<rect x="1122" y="1060" width="146" height="73" rx="22" fill="#D7DEED" />
<rect x="1320" y="1060" width="147" height="73" rx="22" fill="#D7DEED" />
<rect x="130" y="1185" width="147" height="73" rx="22" fill="#C3E678" />
<rect x="328" y="1185" width="146" height="73" rx="22" fill="#D7DEED" />
<rect x="526" y="1185" width="146" height="73" rx="22" fill="#D7DEED" />
<rect x="725" y="1185" width="147" height="73" rx="22" fill="#D7DEED" />
<rect x="924" y="1185" width="146" height="73" rx="22" fill="#D7DEED" />
<rect x="1122" y="1185" width="146" height="73" rx="22" fill="#D7DEED" />
<rect x="1320" y="1185" width="147" height="73" rx="22" fill="#D7DEED" />
</g>
<g transform="translate(1380,686) scale(0.110421)">
<polygon points="640,900 905,900 1058,1275 915,1240 838,1368" fill="#FF4B4F" />
<polygon points="720,1095 745,1000 895,912 908,935 785,1205" fill="#EE3840" />
<polygon points="545,900 800,900 600,1368 520,1240 380,1275" fill="#FF4B4F" />
<polygon points="720.0,103.0 748.9,108.9 775.9,125.2 800.0,147.9 821.3,171.8 841.5,192.1 862.7,205.4 887.2,211.0 915.8,211.0 947.8,209.1 980.9,210.0 1011.5,217.7 1036.1,233.9 1052.3,258.5 1060.0,289.1 1060.9,322.2 1059.0,354.2 1059.0,382.8 1064.6,407.3 1077.9,428.5 1098.2,448.7 1122.1,470.0 1144.8,494.1 1161.1,521.1 1167.0,550.0 1161.1,578.9 1144.8,605.9 1122.1,630.0 1098.2,651.3 1077.9,671.5 1064.6,692.7 1059.0,717.2 1059.0,745.7 1060.9,777.8 1060.0,810.9 1052.3,841.5 1036.1,866.1 1011.5,882.3 980.9,890.0 947.8,890.9 915.8,889.0 887.2,889.0 862.7,894.6 841.5,907.9 821.3,928.2 800.0,952.1 775.9,974.8 748.9,991.1 720.0,997.0 691.1,991.1 664.1,974.8 640.0,952.1 618.7,928.2 598.5,907.9 577.3,894.6 552.8,889.0 524.3,889.0 492.2,890.9 459.1,890.0 428.5,882.3 403.9,866.1 387.7,841.5 380.0,810.9 379.1,777.8 381.0,745.8 381.0,717.2 375.4,692.7 362.1,671.5 341.8,651.3 317.9,630.0 295.2,605.9 278.9,578.9 273.0,550.0 278.9,521.1 295.2,494.1 317.9,470.0 341.8,448.7 362.1,428.5 375.4,407.3 381.0,382.8 381.0,354.2 379.1,322.2 380.0,289.1 387.7,258.5 403.9,233.9 428.5,217.7 459.1,210.0 492.2,209.1 524.2,211.0 552.8,211.0 577.3,205.4 598.5,192.1 618.7,171.8 640.0,147.9 664.1,125.2 691.1,108.9" fill="#FFD884" stroke="#FFD884" stroke-width="30" stroke-linejoin="round"/>
<circle cx="720" cy="548" r="285" fill="#FF6A07"/>
<clipPath id="cM"><circle cx="720" cy="548" r="285"/></clipPath><circle cx="577" cy="548" r="285" fill="#FF8205" clip-path="url(#cM)"/>
<path d="M568,565 L655,655 L840,470" fill="none" stroke="#fff" stroke-width="80" stroke-linecap="round" stroke-linejoin="round"/>
</g>
<g transform="translate(1610,686) scale(0.110421)">
<polygon points="388,265 635,90 635,600 388,600" fill="#B9D156" />
<polygon points="450,280 635,150 635,600 450,600" fill="#D4E862" />
<rect x="425" y="308" width="190" height="32" rx="16" fill="#8CC63F" />
<rect x="425" y="362" width="190" height="32" rx="16" fill="#8CC63F" />
<rect x="425" y="416" width="190" height="32" rx="16" fill="#8CC63F" />
<rect x="425" y="470" width="190" height="32" rx="16" fill="#8CC63F" />
<rect x="425" y="524" width="190" height="32" rx="16" fill="#8CC63F" />
<rect x="800" y="157" width="422" height="1175" rx="12" fill="#FE8279" />
<rect x="800" y="160" width="68" height="320" rx="8" fill="#E9776F" />
<rect x="835" y="208.0" width="80" height="36.0" rx="18" fill="#F14D52" />
<rect x="942" y="208.0" width="138" height="36.0" rx="18" fill="#F14D52" />
<rect x="1108" y="208.0" width="78" height="36.0" rx="18" fill="#F14D52" />
<rect x="835" y="266.5" width="80" height="36.0" rx="18" fill="#F14D52" />
<rect x="942" y="266.5" width="138" height="36.0" rx="18" fill="#F14D52" />
<rect x="1108" y="266.5" width="78" height="36.0" rx="18" fill="#F14D52" />
<rect x="835" y="325.0" width="80" height="36.0" rx="18" fill="#F14D52" />
<rect x="942" y="325.0" width="138" height="36.0" rx="18" fill="#F14D52" />
<rect x="1108" y="325.0" width="78" height="36.0" rx="18" fill="#F14D52" />
<rect x="835" y="383.5" width="80" height="36.0" rx="18" fill="#F14D52" />
<rect x="942" y="383.5" width="138" height="36.0" rx="18" fill="#F14D52" />
<rect x="1108" y="383.5" width="78" height="36.0" rx="18" fill="#F14D52" />
<rect x="835" y="442.0" width="80" height="36.0" rx="18" fill="#F14D52" />
<rect x="942" y="442.0" width="138" height="36.0" rx="18" fill="#F14D52" />
<rect x="1108" y="442.0" width="78" height="36.0" rx="18" fill="#F14D52" />
<rect x="835" y="500.5" width="80" height="36.0" rx="18" fill="#F14D52" />
<rect x="942" y="500.5" width="138" height="36.0" rx="18" fill="#F14D52" />
<rect x="1108" y="500.5" width="78" height="36.0" rx="18" fill="#F14D52" />
<rect x="835" y="559.0" width="80" height="36.0" rx="18" fill="#F14D52" />
<rect x="942" y="559.0" width="138" height="36.0" rx="18" fill="#F14D52" />
<rect x="1108" y="559.0" width="78" height="36.0" rx="18" fill="#F14D52" />
<rect x="835" y="617.5" width="80" height="36.0" rx="18" fill="#F14D52" />
<rect x="942" y="617.5" width="138" height="36.0" rx="18" fill="#F14D52" />
<rect x="1108" y="617.5" width="78" height="36.0" rx="18" fill="#F14D52" />
<rect x="835" y="676.0" width="80" height="36.0" rx="18" fill="#F14D52" />
<rect x="942" y="676.0" width="138" height="36.0" rx="18" fill="#F14D52" />
<rect x="1108" y="676.0" width="78" height="36.0" rx="18" fill="#F14D52" />
<rect x="835" y="734.5" width="80" height="36.0" rx="18" fill="#F14D52" />
<rect x="942" y="734.5" width="138" height="36.0" rx="18" fill="#F14D52" />
<rect x="1108" y="734.5" width="78" height="36.0" rx="18" fill="#F14D52" />
<rect x="835" y="793.0" width="80" height="36.0" rx="18" fill="#F14D52" />
<rect x="942" y="793.0" width="138" height="36.0" rx="18" fill="#F14D52" />
<rect x="1108" y="793.0" width="78" height="36.0" rx="18" fill="#F14D52" />
<rect x="835" y="851.5" width="80" height="36.0" rx="18" fill="#F14D52" />
<rect x="942" y="851.5" width="138" height="36.0" rx="18" fill="#F14D52" />
<rect x="1108" y="851.5" width="78" height="36.0" rx="18" fill="#F14D52" />
<rect x="835" y="910.0" width="80" height="36.0" rx="18" fill="#F14D52" />
<rect x="942" y="910.0" width="138" height="36.0" rx="18" fill="#F14D52" />
<rect x="1108" y="910.0" width="78" height="36.0" rx="18" fill="#F14D52" />
<rect x="835" y="968.5" width="80" height="36.0" rx="18" fill="#F14D52" />
<rect x="942" y="968.5" width="138" height="36.0" rx="18" fill="#F14D52" />
<rect x="1108" y="968.5" width="78" height="36.0" rx="18" fill="#F14D52" />
<rect x="835" y="1027.0" width="80" height="36.0" rx="18" fill="#F14D52" />
<rect x="942" y="1027.0" width="138" height="36.0" rx="18" fill="#F14D52" />
<rect x="1108" y="1027.0" width="78" height="36.0" rx="18" fill="#F14D52" />
<rect x="835" y="1085.5" width="80" height="36.0" rx="18" fill="#F14D52" />
<rect x="942" y="1085.5" width="138" height="36.0" rx="18" fill="#F14D52" />
<rect x="1108" y="1085.5" width="78" height="36.0" rx="18" fill="#F14D52" />
<rect x="835" y="1144.0" width="80" height="36.0" rx="18" fill="#F14D52" />
<rect x="942" y="1144.0" width="138" height="36.0" rx="18" fill="#F14D52" />
<rect x="1108" y="1144.0" width="78" height="36.0" rx="18" fill="#F14D52" />
<rect x="835" y="1202.5" width="80" height="36.0" rx="18" fill="#F14D52" />
<rect x="942" y="1202.5" width="138" height="36.0" rx="18" fill="#F14D52" />
<rect x="1108" y="1202.5" width="78" height="36.0" rx="18" fill="#F14D52" />
<rect x="215" y="563" width="315" height="769" rx="12" fill="#F7941E" />
<rect x="215" y="566" width="50" height="766" rx="8" fill="#E08A1E" />
<rect x="268" y="640" width="40" height="570" rx="20" fill="#FFC800" />
<rect x="325" y="640" width="40" height="570" rx="20" fill="#FFC800" />
<rect x="387" y="640" width="40" height="570" rx="20" fill="#FFC800" />
<rect x="445" y="640" width="40" height="570" rx="20" fill="#FFC800" />
<rect x="700" y="115" width="40" height="215" rx="18" fill="#CBD0D8" />
<rect x="615" y="318" width="211" height="86" rx="0" fill="#E6E9ED" />
<rect x="615" y="318" width="45" height="86" rx="0" fill="#CFD2D8" />
<rect x="578" y="402" width="287" height="80" rx="0" fill="#C5CCD4" />
<rect x="578" y="402" width="74" height="80" rx="0" fill="#AEB4BF" />
<rect x="533" y="480" width="375" height="810" rx="0" fill="#E6E9ED" />
<rect x="533" y="480" width="45" height="810" rx="0" fill="#CFD2D8" />
<rect x="567" y="517" width="36" height="62" rx="18" fill="#98A2AD" />
<rect x="621" y="517" width="36" height="62" rx="18" fill="#98A2AD" />
<rect x="675" y="517" width="36" height="62" rx="18" fill="#98A2AD" />
<rect x="729" y="517" width="36" height="62" rx="18" fill="#98A2AD" />
<rect x="783" y="517" width="36" height="62" rx="18" fill="#98A2AD" />
<rect x="837" y="517" width="36" height="62" rx="18" fill="#98A2AD" />
<rect x="567" y="602" width="36" height="62" rx="18" fill="#98A2AD" />
<rect x="621" y="602" width="36" height="62" rx="18" fill="#98A2AD" />
<rect x="675" y="602" width="36" height="62" rx="18" fill="#98A2AD" />
<rect x="729" y="602" width="36" height="62" rx="18" fill="#98A2AD" />
<rect x="783" y="602" width="36" height="62" rx="18" fill="#98A2AD" />
<rect x="837" y="602" width="36" height="62" rx="18" fill="#98A2AD" />
<rect x="567" y="687" width="36" height="62" rx="18" fill="#98A2AD" />
<rect x="621" y="687" width="36" height="62" rx="18" fill="#98A2AD" />
<rect x="675" y="687" width="36" height="62" rx="18" fill="#98A2AD" />
<rect x="729" y="687" width="36" height="62" rx="18" fill="#98A2AD" />
<rect x="783" y="687" width="36" height="62" rx="18" fill="#98A2AD" />
<rect x="837" y="687" width="36" height="62" rx="18" fill="#98A2AD" />
<rect x="567" y="772" width="36" height="62" rx="18" fill="#98A2AD" />
<rect x="621" y="772" width="36" height="62" rx="18" fill="#98A2AD" />
<rect x="675" y="772" width="36" height="62" rx="18" fill="#98A2AD" />
<rect x="729" y="772" width="36" height="62" rx="18" fill="#98A2AD" />
<rect x="783" y="772" width="36" height="62" rx="18" fill="#98A2AD" />
<rect x="837" y="772" width="36" height="62" rx="18" fill="#98A2AD" />
<rect x="567" y="857" width="36" height="62" rx="18" fill="#98A2AD" />
<rect x="621" y="857" width="36" height="62" rx="18" fill="#98A2AD" />
<rect x="675" y="857" width="36" height="62" rx="18" fill="#98A2AD" />
<rect x="729" y="857" width="36" height="62" rx="18" fill="#98A2AD" />
<rect x="783" y="857" width="36" height="62" rx="18" fill="#98A2AD" />
<rect x="837" y="857" width="36" height="62" rx="18" fill="#98A2AD" />
<rect x="567" y="941" width="36" height="62" rx="18" fill="#98A2AD" />
<rect x="621" y="941" width="36" height="62" rx="18" fill="#98A2AD" />
<rect x="675" y="941" width="36" height="62" rx="18" fill="#98A2AD" />
<rect x="729" y="941" width="36" height="62" rx="18" fill="#98A2AD" />
<rect x="783" y="941" width="36" height="62" rx="18" fill="#98A2AD" />
<rect x="837" y="941" width="36" height="62" rx="18" fill="#98A2AD" />
<rect x="567" y="1026" width="36" height="62" rx="18" fill="#98A2AD" />
<rect x="837" y="1026" width="36" height="62" rx="18" fill="#98A2AD" />
<rect x="567" y="1111" width="36" height="62" rx="18" fill="#98A2AD" />
<rect x="837" y="1111" width="36" height="62" rx="18" fill="#98A2AD" />
<rect x="628" y="1032" width="184" height="258" rx="10" fill="#80DEEA" />
<rect x="703" y="1032" width="35" height="258" rx="0" fill="#98A2AD" />
<rect x="482" y="1288" width="476" height="44" rx="0" fill="#C5CCD4" />
<rect x="482" y="1288" width="78" height="44" rx="0" fill="#AEB4BF" />
<rect x="255" y="1235" width="35" height="97" rx="0" fill="#6D4C32" />
<circle cx="272" cy="1155" r="98" fill="#7CB342"/><clipPath id="cT272"><circle cx="272" cy="1155" r="98"/></clipPath><circle cx="327" cy="1150" r="98" fill="#8BC94A" clip-path="url(#cT272)"/>
<rect x="1148" y="1235" width="35" height="97" rx="0" fill="#6D4C32" />
<circle cx="1165" cy="1155" r="98" fill="#7CB342"/><clipPath id="cT1165"><circle cx="1165" cy="1155" r="98"/></clipPath><circle cx="1220" cy="1150" r="98" fill="#8BC94A" clip-path="url(#cT1165)"/>
<rect x="148" y="1330" width="1145" height="37" rx="18" fill="#9BA5B0" />
</g>
<g transform="translate(1840,686) scale(0.110421)">
<clipPath id="cMap"><path d="M212,405 H1318 Q1358,405 1358,445 V1272 Q1358,1312 1318,1312 H212 Z"/></clipPath>
<path d="M212,145 Q82,165 82,280 V1180 H212 Z" fill="#FFEAD2"/>
<g clip-path="url(#cMap)">
<rect x="212" y="405" width="1146" height="907" rx="0" fill="#A5EBFC" />
<polygon points="670,405 1095,405 1015,600 1035,700 1050,765 900,870 750,940 730,925 580,880 575,830 770,660 790,610" fill="#CBF0FC" />
<polygon points="212,695 350,760 405,915 380,985 212,950" fill="#CBF0FC" />
<polygon points="212,405 670,405 790,610 770,660 212,660" fill="#DDFFBA" />
<polygon points="1095,405 1358,405 1358,660 1020,660 1015,600" fill="#DDFFBA" />
<path d="M1280,405 H1358 V660 H1170 Q1250,560 1280,405 Z" fill="#BAFA8B"/>
<polygon points="212,660 770,660 575,830 580,880 730,925 730,955 380,985 405,915 350,760 212,695" fill="#FFF6D6" />
<polygon points="1020,660 1358,660 1358,1015 1075,1015 1075,975 1220,930 1230,830 1050,765 1035,700" fill="#FFEEA3" />
<polygon points="1020,660 1125,660 1050,765 1035,700" fill="#FFF6D6" />
<path d="M380,985 Q600,985 745,935 L815,1140 L720,1312 H565 L545,1225 Q520,1195 400,1190 L335,1075 Z" fill="#FF4D61"/>
<path d="M380,985 Q600,985 745,935 L770,1015 H365 Z" fill="#FF6B73"/>
<polygon points="1075,1015 1358,1015 1358,1312 1205,1312 1068,1190" fill="#FF4D61" />
<rect x="170" y="642" width="95" height="42" rx="21" fill="#3F3F4D" />
<rect x="392" y="642" width="105" height="42" rx="21" fill="#3F3F4D" />
<rect x="620" y="642" width="105" height="42" rx="21" fill="#3F3F4D" />
<rect x="848" y="642" width="104" height="42" rx="21" fill="#3F3F4D" />
<rect x="1078" y="642" width="102" height="42" rx="21" fill="#3F3F4D" />
<rect x="1307" y="642" width="93" height="42" rx="21" fill="#3F3F4D" />
<rect x="170" y="998" width="95" height="42" rx="21" fill="#3F3F4D" />
<rect x="392" y="998" width="105" height="42" rx="21" fill="#3F3F4D" />
<rect x="620" y="998" width="105" height="42" rx="21" fill="#3F3F4D" />
<rect x="848" y="998" width="104" height="42" rx="21" fill="#3F3F4D" />
<rect x="1078" y="998" width="102" height="42" rx="21" fill="#3F3F4D" />
<rect x="1307" y="998" width="93" height="42" rx="21" fill="#3F3F4D" />
</g>
<path d="M216,1048 H212 A132,132 0 0 0 212,1312 H216 Z" fill="#A5EBFC"/>
</g>
<g transform="translate(2062,690) scale(0.110421)">
<path d="M415,150 L150,322" stroke="#E08A26" stroke-width="42"/><path d="M550,150 L1228,322" stroke="#E08A26" stroke-width="42"/>
<polygon points="410,135 555,135 580,318 380,318" fill="#F7A030" />
<polygon points="437,205 425,295 512,295" fill="#F4F7FD" />
<polygon points="470,175 525,175 532,255" fill="#F4F7FD" />
<rect x="120" y="315" width="1120" height="155" rx="20" fill="#F7A030" />
<polygon points="180,355 260,355 220,415" fill="#F4F7FD" />
<polygon points="262,435 345,435 303,372" fill="#F4F7FD" />
<polygon points="160,405 180,435 160,435" fill="#F4F7FD" />
<polygon points="340,355 362,355 362,388" fill="#F4F7FD" />
<polygon points="597,355 620,355 597,392" fill="#F4F7FD" />
<polygon points="1180,355 1200,355 1200,388" fill="#F4F7FD" />
<polygon points="620,435 700,435 660,372" fill="#F4F7FD" />
<polygon points="700,355 780,355 740,415" fill="#F4F7FD" />
<polygon points="780,435 860,435 820,372" fill="#F4F7FD" />
<polygon points="860,355 940,355 900,415" fill="#F4F7FD" />
<polygon points="940,435 1020,435 980,372" fill="#F4F7FD" />
<polygon points="1020,355 1100,355 1060,415" fill="#F4F7FD" />
<polygon points="1100,435 1180,435 1140,372" fill="#F4F7FD" />
<rect x="400" y="470" width="160" height="722" rx="0" fill="#F7A030" />
<polygon points="442,515.0 442,590.0 500,552.0" fill="#F4F7FD" />
<polygon points="522,595.4 522,670.4 463,632.4" fill="#F4F7FD" />
<polygon points="442,675.8 442,750.8 500,712.8" fill="#F4F7FD" />
<polygon points="522,756.2 522,831.2 463,793.2" fill="#F4F7FD" />
<polygon points="442,836.6 442,911.6 500,873.6" fill="#F4F7FD" />
<polygon points="522,917.0 522,992.0 463,954.0" fill="#F4F7FD" />
<polygon points="442,997.4000000000001 442,1072.4 500,1034.4" fill="#F4F7FD" />
<polygon points="522,1077.8000000000002 522,1152.8000000000002 463,1114.8000000000002" fill="#F4F7FD" />
<polygon points="490,490 522,490 522,512" fill="#F4F7FD" />
<polygon points="442,1150 472,1172 442,1172" fill="#F4F7FD" />
<rect x="380" y="315" width="200" height="155" rx="0" fill="#B3B3B3" />
<rect x="462" y="375" width="36" height="37" rx="0" fill="#999999" />
<rect x="182" y="470" width="80" height="63" rx="0" fill="#B3B3B3" />
<rect x="343" y="1190" width="277" height="72" rx="0" fill="#B3B3B3" />
<rect x="965" y="470" width="30" height="35" rx="0" fill="#B3B3B3" />
<path d="M862,625 L980,512 L1098,625" fill="none" stroke="#B3B3B3" stroke-width="36" stroke-linejoin="miter"/>
<rect x="798" y="632" width="362" height="80" rx="0" fill="#29ABE2" />
<rect x="798" y="632" width="362" height="18" rx="0" fill="#1E98C9" />
<rect x="942" y="790" width="78" height="472" rx="0" fill="#A6A6A6" />
<rect x="798" y="870" width="362" height="78" rx="0" fill="#BFBFBF" />
<rect x="798" y="912" width="362" height="36" rx="0" fill="#B0B0B0" />
<rect x="798" y="1112" width="362" height="78" rx="0" fill="#BFBFBF" />
<rect x="798" y="1154" width="362" height="36" rx="0" fill="#B0B0B0" />
<rect x="720" y="790" width="78" height="472" rx="0" fill="#CCCCCC" />
<rect x="720" y="790" width="40" height="472" rx="0" fill="#BDBFBF" />
<rect x="1160" y="790" width="80" height="472" rx="0" fill="#CCCCCC" />
<rect x="1200" y="790" width="40" height="472" rx="0" fill="#BDBFBF" />
<rect x="120" y="1260" width="1200" height="38" rx="0" fill="#4D4D4D" />
</g>
<g transform="translate(2298,686) scale(0.110421)">
<path d="M330,330 L800,778" stroke="#C5C3E6" stroke-width="56"/><path d="M770,750 L950,920" stroke="#A5A6CF" stroke-width="56"/>
<polygon points="188,102 348,186 348,334 314,358 182,353 96,197" fill="#DEDEF5" stroke="#DEDEF5" stroke-width="24" stroke-linejoin="round"/>
<path d="M1252,1248 L990,1000" stroke="#FF4A4A" stroke-width="232" stroke-linecap="round"/>
<clipPath id="cH"><polygon points="700,1000 1100,600 1500,1000 1100,1400"/></clipPath>
<polygon points="885,1035 1040,885 1112,955 958,1108" fill="#CE1170" />
<polygon points="830,1080 1000,1250 1300,950 1130,780" fill="#F4F7FD" opacity="0"/>
<path d="M848,1020 L1015,850" stroke="#FF4A4A" stroke-width="76" stroke-linecap="round"/>
<clipPath id="cW1"><rect x="0" y="0" width="722" height="1449"/></clipPath><clipPath id="cW2"><rect x="722" y="0" width="800" height="1449"/></clipPath>
<path d="M205,1240 L1010,470" stroke="#5A5A5A" stroke-width="250" stroke-linecap="round"/><g clip-path="url(#cW2)"><path d="M205,1240 L1010,470" stroke="#434A54" stroke-width="250" stroke-linecap="round"/></g>
<path d="M1058,268 L1150,165 Q1200,110 1135,92 A250,250 0 1 0 1364,318 Q1352,262 1305,300 L1192,400 L1085,372 Z" fill="#434A54"/>
</g>
<g transform="translate(0,2080) scale(0.217391)">
<circle cx="150" cy="212" r="98" fill="none" stroke="#c6c6c6" stroke-width="5"/>
<circle cx="452" cy="212" r="98" fill="none" stroke="#c6c6c6" stroke-width="5"/>
<circle cx="757" cy="212" r="98" fill="none" stroke="#c6c6c6" stroke-width="5"/>
<circle cx="1060" cy="212" r="98" fill="none" stroke="#c6c6c6" stroke-width="5"/>
<circle cx="1363" cy="212" r="98" fill="none" stroke="#c6c6c6" stroke-width="5"/>
<circle cx="1667" cy="212" r="98" fill="none" stroke="#c6c6c6" stroke-width="5"/>
<circle cx="1970" cy="212" r="98" fill="none" stroke="#c6c6c6" stroke-width="5"/>
<circle cx="2274" cy="212" r="98" fill="none" stroke="#c6c6c6" stroke-width="5"/>
<polygon points="115,213 163,178 163,252" fill="none" stroke="#c6c6c6" stroke-width="5"/>
<polygon points="487,213 438,178 438,252" fill="none" stroke="#c6c6c6" stroke-width="5"/>
<path d="M797,152 L815,170 L742,243 L724,225 Z M735,232 L712,262 L706,268 L700,262 L708,255 L724,225 M706,262 L702,266" fill="none" stroke="#c6c6c6" stroke-width="5" stroke-linejoin="round"/>
<rect x="1003" y="158" width="42" height="42" fill="none" stroke="#c6c6c6" stroke-width="5"/><rect x="1055" y="158" width="42" height="25" fill="none" stroke="#c6c6c6" stroke-width="5"/><rect x="1003" y="210" width="25" height="35" fill="none" stroke="#c6c6c6" stroke-width="5"/><rect x="1040" y="192" width="75" height="76" fill="none" stroke="#c6c6c6" stroke-width="5"/><rect x="1050" y="202" width="55" height="56" fill="none" stroke="#c6c6c6" stroke-width="5"/>
<circle cx="1350" cy="198" r="42" fill="none" stroke="#c6c6c6" stroke-width="5"/><circle cx="1350" cy="198" r="32" fill="none" stroke="#c6c6c6" stroke-width="5"/><path d="M1378,230 L1412,264 Q1420,268 1418,256 L1386,222" fill="none" stroke="#c6c6c6" stroke-width="5"/>
<rect x="1612" y="168" width="110" height="90" fill="none" stroke="#c6c6c6" stroke-width="5"/><path d="M1630,220 H1705 M1630,238 H1705" fill="none" stroke="#c6c6c6" stroke-width="5" stroke-dasharray="22 6"/>
<rect x="1918" y="178" width="72" height="72" rx="4" fill="none" stroke="#c6c6c6" stroke-width="5"/><path d="M1998,196 L2030,180 V248 L1998,232" fill="none" stroke="#c6c6c6" stroke-width="5"/><path d="M1920,166 L2010,256" fill="none" stroke="#c6c6c6" stroke-width="5"/>
<circle cx="2235" cy="212" r="11" fill="none" stroke="#c6c6c6" stroke-width="5"/>
<circle cx="2274" cy="212" r="11" fill="none" stroke="#c6c6c6" stroke-width="5"/>
<circle cx="2314" cy="212" r="11" fill="none" stroke="#c6c6c6" stroke-width="5"/>
</g>
</svg>
</body></html>
